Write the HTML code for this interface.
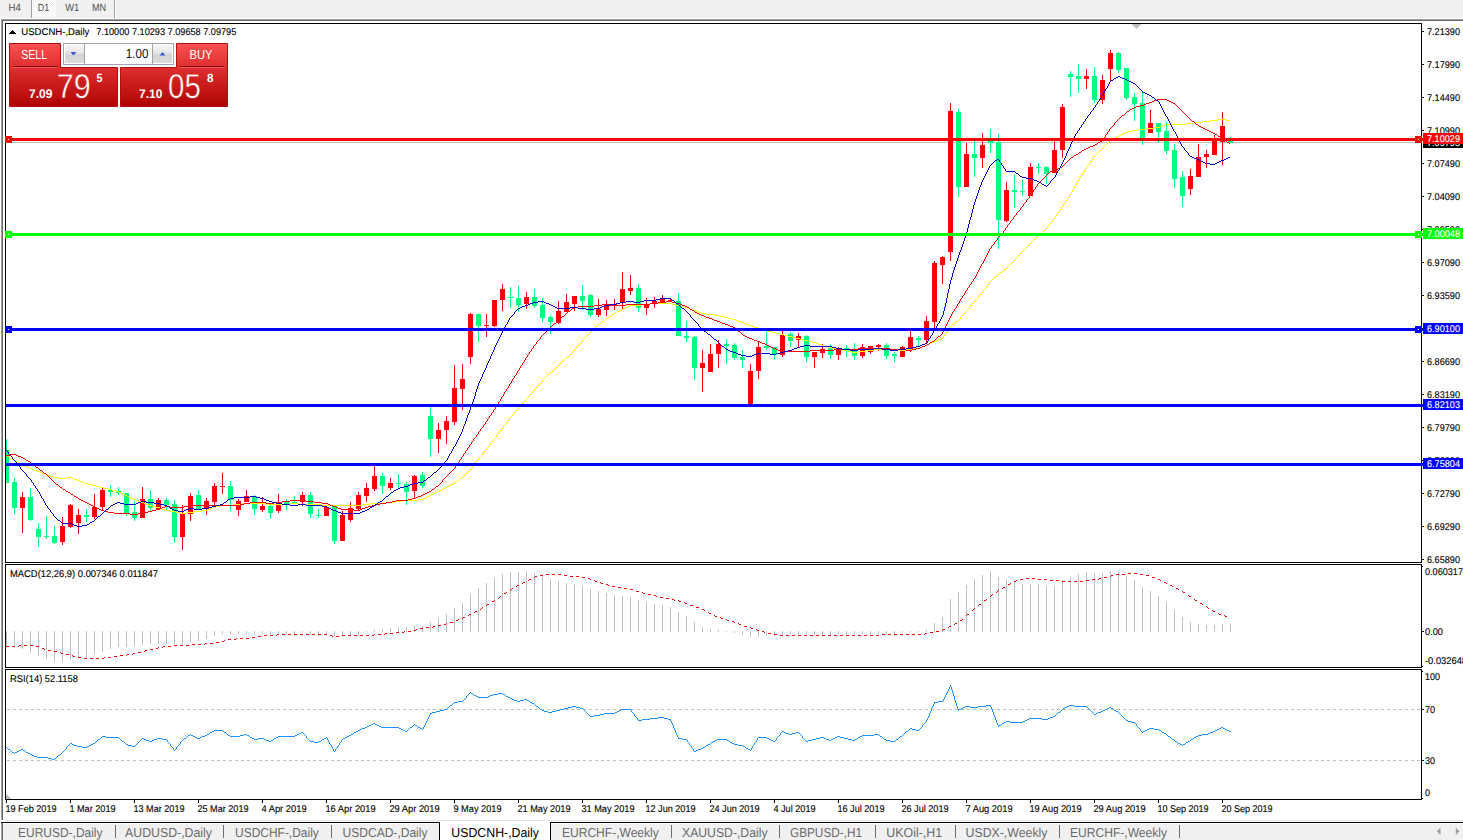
<!DOCTYPE html>
<html><head><meta charset="utf-8"><title>USDCNH-,Daily</title>
<style>
html,body{margin:0;padding:0;background:#fff;overflow:hidden}
svg{display:block;font-family:"Liberation Sans",sans-serif}
text{white-space:pre;text-rendering:geometricPrecision}
</style></head><body>
<svg width="1463" height="840" viewBox="0 0 1463 840">
<rect x="0" y="0" width="1463" height="840" fill="#fff"/>
<rect x="0" y="0" width="1463" height="18" fill="#f0f0f0"/>
<defs><pattern id="hatch" width="2" height="2" patternUnits="userSpaceOnUse"><rect width="2" height="2" fill="#f0f0f0"/><rect width="1" height="1" fill="#fff"/><rect x="1" y="1" width="1" height="1" fill="#fff"/></pattern></defs>
<rect x="32" y="0" width="24" height="17" fill="url(#hatch)" shape-rendering="crispEdges"/>
<rect x="31" y="0" width="1" height="18" fill="#a0a0a0"/>
<rect x="114" y="0" width="1" height="18" fill="#a0a0a0"/>
<rect x="115" y="0" width="1" height="18" fill="#fff"/>
<rect x="0" y="18" width="1463" height="1" fill="#fcfcfc"/>
<rect x="1" y="19" width="1462" height="1" fill="#a0a0a0"/>
<rect x="2" y="20" width="1461" height="1" fill="#696969"/>
<rect x="1" y="19" width="1" height="801" fill="#a0a0a0"/>
<rect x="2" y="20" width="1" height="800" fill="#696969"/>
<text x="8.6" y="10.8" font-size="10.4" fill="#505050" textLength="12.3" lengthAdjust="spacingAndGlyphs">H4</text>
<text x="37.7" y="10.8" font-size="10.4" fill="#505050" textLength="11.5" lengthAdjust="spacingAndGlyphs">D1</text>
<text x="65.2" y="10.8" font-size="10.4" fill="#505050" textLength="14" lengthAdjust="spacingAndGlyphs">W1</text>
<text x="91.9" y="10.8" font-size="10.4" fill="#505050" textLength="14.3" lengthAdjust="spacingAndGlyphs">MN</text>
<rect x="5" y="23" width="1417" height="1" fill="#000"/>
<rect x="5" y="562" width="1417" height="1" fill="#000"/>
<rect x="5" y="23" width="1" height="540" fill="#000"/>
<rect x="1421" y="23" width="1" height="540" fill="#000"/>
<rect x="5" y="564" width="1417" height="1" fill="#000"/>
<rect x="5" y="667" width="1417" height="1" fill="#000"/>
<rect x="5" y="564" width="1" height="104" fill="#000"/>
<rect x="1421" y="564" width="1" height="104" fill="#000"/>
<rect x="5" y="669" width="1417" height="1" fill="#000"/>
<rect x="5" y="799" width="1417" height="1" fill="#000"/>
<rect x="5" y="669" width="1" height="131" fill="#000"/>
<rect x="1421" y="669" width="1" height="131" fill="#000"/>
<g shape-rendering="crispEdges">
<rect x="6" y="142" width="1415" height="1" fill="#c0c0c0"/>
<rect x="6" y="439" width="1" height="44" fill="#00ff7f"/>
<rect x="6" y="450" width="3" height="33" fill="#00ff7f"/>
<rect x="14" y="478" width="1" height="36" fill="#00ff7f"/>
<rect x="12" y="482" width="5" height="26" fill="#00ff7f"/>
<rect x="22" y="492" width="1" height="41" fill="#ff0000"/>
<rect x="20" y="497" width="5" height="11" fill="#ff0000"/>
<rect x="30" y="488" width="1" height="33" fill="#00ff7f"/>
<rect x="28" y="497" width="5" height="23" fill="#00ff7f"/>
<rect x="38" y="523" width="1" height="24" fill="#00ff7f"/>
<rect x="36" y="529" width="5" height="8" fill="#00ff7f"/>
<rect x="46" y="516" width="1" height="23" fill="#00ff7f"/>
<rect x="44" y="536" width="5" height="1" fill="#00ff7f"/>
<rect x="54" y="526" width="1" height="18" fill="#00ff7f"/>
<rect x="52" y="536" width="5" height="7" fill="#00ff7f"/>
<rect x="62" y="517" width="1" height="28" fill="#ff0000"/>
<rect x="60" y="526" width="5" height="16" fill="#ff0000"/>
<rect x="70" y="504" width="1" height="24" fill="#ff0000"/>
<rect x="68" y="505" width="5" height="22" fill="#ff0000"/>
<rect x="78" y="509" width="1" height="25" fill="#ff0000"/>
<rect x="76" y="515" width="5" height="8" fill="#ff0000"/>
<rect x="86" y="509" width="1" height="13" fill="#00ff7f"/>
<rect x="84" y="515" width="5" height="2" fill="#00ff7f"/>
<rect x="94" y="494" width="1" height="25" fill="#ff0000"/>
<rect x="92" y="507" width="5" height="10" fill="#ff0000"/>
<rect x="102" y="488" width="1" height="22" fill="#ff0000"/>
<rect x="100" y="490" width="5" height="17" fill="#ff0000"/>
<rect x="110" y="485" width="1" height="12" fill="#00ff7f"/>
<rect x="108" y="490" width="5" height="2" fill="#00ff7f"/>
<rect x="118" y="487" width="1" height="8" fill="#00ff7f"/>
<rect x="116" y="491" width="5" height="2" fill="#00ff7f"/>
<rect x="126" y="493" width="1" height="23" fill="#00ff7f"/>
<rect x="124" y="493" width="5" height="20" fill="#00ff7f"/>
<rect x="134" y="501" width="1" height="20" fill="#00ff7f"/>
<rect x="132" y="512" width="5" height="6" fill="#00ff7f"/>
<rect x="142" y="487" width="1" height="31" fill="#ff0000"/>
<rect x="140" y="499" width="5" height="19" fill="#ff0000"/>
<rect x="150" y="490" width="1" height="21" fill="#00ff7f"/>
<rect x="148" y="499" width="5" height="9" fill="#00ff7f"/>
<rect x="158" y="498" width="1" height="12" fill="#ff0000"/>
<rect x="156" y="500" width="5" height="9" fill="#ff0000"/>
<rect x="166" y="498" width="1" height="12" fill="#00ff7f"/>
<rect x="164" y="500" width="5" height="5" fill="#00ff7f"/>
<rect x="174" y="500" width="1" height="43" fill="#00ff7f"/>
<rect x="172" y="504" width="5" height="33" fill="#00ff7f"/>
<rect x="182" y="505" width="1" height="45" fill="#ff0000"/>
<rect x="180" y="513" width="5" height="24" fill="#ff0000"/>
<rect x="190" y="493" width="1" height="28" fill="#ff0000"/>
<rect x="188" y="496" width="5" height="18" fill="#ff0000"/>
<rect x="198" y="491" width="1" height="19" fill="#00ff7f"/>
<rect x="196" y="495" width="5" height="14" fill="#00ff7f"/>
<rect x="206" y="498" width="1" height="17" fill="#ff0000"/>
<rect x="204" y="501" width="5" height="8" fill="#ff0000"/>
<rect x="214" y="483" width="1" height="23" fill="#ff0000"/>
<rect x="212" y="486" width="5" height="16" fill="#ff0000"/>
<rect x="222" y="473" width="1" height="21" fill="#ff0000"/>
<rect x="220" y="486" width="5" height="1" fill="#ff0000"/>
<rect x="230" y="481" width="1" height="30" fill="#00ff7f"/>
<rect x="228" y="486" width="5" height="14" fill="#00ff7f"/>
<rect x="238" y="499" width="1" height="17" fill="#ff0000"/>
<rect x="236" y="501" width="5" height="9" fill="#ff0000"/>
<rect x="246" y="490" width="1" height="12" fill="#ff0000"/>
<rect x="244" y="496" width="5" height="6" fill="#ff0000"/>
<rect x="254" y="495" width="1" height="20" fill="#00ff7f"/>
<rect x="252" y="496" width="5" height="13" fill="#00ff7f"/>
<rect x="262" y="497" width="1" height="15" fill="#ff0000"/>
<rect x="260" y="506" width="5" height="4" fill="#ff0000"/>
<rect x="270" y="505" width="1" height="14" fill="#00ff7f"/>
<rect x="268" y="506" width="5" height="7" fill="#00ff7f"/>
<rect x="278" y="494" width="1" height="19" fill="#ff0000"/>
<rect x="276" y="502" width="5" height="9" fill="#ff0000"/>
<rect x="286" y="499" width="1" height="11" fill="#00ff7f"/>
<rect x="284" y="502" width="5" height="3" fill="#00ff7f"/>
<rect x="294" y="496" width="1" height="8" fill="#00ff7f"/>
<rect x="292" y="502" width="5" height="2" fill="#00ff7f"/>
<rect x="302" y="492" width="1" height="14" fill="#ff0000"/>
<rect x="300" y="495" width="5" height="7" fill="#ff0000"/>
<rect x="310" y="492" width="1" height="26" fill="#00ff7f"/>
<rect x="308" y="495" width="5" height="19" fill="#00ff7f"/>
<rect x="318" y="509" width="1" height="9" fill="#00ff7f"/>
<rect x="316" y="515" width="5" height="1" fill="#00ff7f"/>
<rect x="326" y="507" width="1" height="9" fill="#ff0000"/>
<rect x="324" y="507" width="5" height="9" fill="#ff0000"/>
<rect x="334" y="506" width="1" height="38" fill="#00ff7f"/>
<rect x="332" y="506" width="5" height="35" fill="#00ff7f"/>
<rect x="342" y="511" width="1" height="30" fill="#ff0000"/>
<rect x="340" y="515" width="5" height="26" fill="#ff0000"/>
<rect x="350" y="502" width="1" height="20" fill="#ff0000"/>
<rect x="348" y="508" width="5" height="12" fill="#ff0000"/>
<rect x="358" y="492" width="1" height="19" fill="#ff0000"/>
<rect x="356" y="495" width="5" height="14" fill="#ff0000"/>
<rect x="366" y="483" width="1" height="19" fill="#ff0000"/>
<rect x="364" y="488" width="5" height="8" fill="#ff0000"/>
<rect x="374" y="466" width="1" height="25" fill="#ff0000"/>
<rect x="372" y="476" width="5" height="13" fill="#ff0000"/>
<rect x="382" y="473" width="1" height="21" fill="#00ff7f"/>
<rect x="380" y="476" width="5" height="10" fill="#00ff7f"/>
<rect x="390" y="478" width="1" height="12" fill="#ff0000"/>
<rect x="388" y="483" width="5" height="5" fill="#ff0000"/>
<rect x="398" y="474" width="1" height="14" fill="#00ff7f"/>
<rect x="396" y="483" width="5" height="1" fill="#00ff7f"/>
<rect x="406" y="482" width="1" height="23" fill="#00ff7f"/>
<rect x="404" y="484" width="5" height="8" fill="#00ff7f"/>
<rect x="414" y="475" width="1" height="23" fill="#ff0000"/>
<rect x="412" y="476" width="5" height="15" fill="#ff0000"/>
<rect x="422" y="472" width="1" height="16" fill="#00ff7f"/>
<rect x="420" y="475" width="5" height="11" fill="#00ff7f"/>
<rect x="430" y="407" width="1" height="50" fill="#00ff7f"/>
<rect x="428" y="416" width="5" height="23" fill="#00ff7f"/>
<rect x="438" y="423" width="1" height="30" fill="#ff0000"/>
<rect x="436" y="430" width="5" height="9" fill="#ff0000"/>
<rect x="446" y="416" width="1" height="28" fill="#ff0000"/>
<rect x="444" y="421" width="5" height="9" fill="#ff0000"/>
<rect x="454" y="365" width="1" height="60" fill="#ff0000"/>
<rect x="452" y="388" width="5" height="34" fill="#ff0000"/>
<rect x="462" y="364" width="1" height="46" fill="#ff0000"/>
<rect x="460" y="379" width="5" height="10" fill="#ff0000"/>
<rect x="470" y="313" width="1" height="51" fill="#ff0000"/>
<rect x="468" y="314" width="5" height="43" fill="#ff0000"/>
<rect x="478" y="314" width="1" height="28" fill="#00ff7f"/>
<rect x="476" y="314" width="5" height="12" fill="#00ff7f"/>
<rect x="486" y="314" width="1" height="23" fill="#ff0000"/>
<rect x="484" y="325" width="5" height="1" fill="#ff0000"/>
<rect x="494" y="300" width="1" height="27" fill="#ff0000"/>
<rect x="492" y="300" width="5" height="26" fill="#ff0000"/>
<rect x="502" y="284" width="1" height="27" fill="#ff0000"/>
<rect x="500" y="289" width="5" height="11" fill="#ff0000"/>
<rect x="510" y="287" width="1" height="21" fill="#00ff7f"/>
<rect x="508" y="297" width="5" height="1" fill="#00ff7f"/>
<rect x="518" y="286" width="1" height="26" fill="#00ff7f"/>
<rect x="516" y="298" width="5" height="7" fill="#00ff7f"/>
<rect x="526" y="292" width="1" height="17" fill="#ff0000"/>
<rect x="524" y="297" width="5" height="7" fill="#ff0000"/>
<rect x="534" y="289" width="1" height="19" fill="#00ff7f"/>
<rect x="532" y="297" width="5" height="9" fill="#00ff7f"/>
<rect x="542" y="298" width="1" height="24" fill="#00ff7f"/>
<rect x="540" y="305" width="5" height="13" fill="#00ff7f"/>
<rect x="550" y="316" width="1" height="18" fill="#00ff7f"/>
<rect x="548" y="317" width="5" height="5" fill="#00ff7f"/>
<rect x="558" y="301" width="1" height="23" fill="#ff0000"/>
<rect x="556" y="311" width="5" height="12" fill="#ff0000"/>
<rect x="566" y="294" width="1" height="18" fill="#ff0000"/>
<rect x="564" y="302" width="5" height="10" fill="#ff0000"/>
<rect x="574" y="296" width="1" height="15" fill="#ff0000"/>
<rect x="572" y="296" width="5" height="8" fill="#ff0000"/>
<rect x="582" y="285" width="1" height="25" fill="#00ff7f"/>
<rect x="580" y="296" width="5" height="5" fill="#00ff7f"/>
<rect x="590" y="294" width="1" height="23" fill="#00ff7f"/>
<rect x="588" y="295" width="5" height="20" fill="#00ff7f"/>
<rect x="598" y="299" width="1" height="18" fill="#ff0000"/>
<rect x="596" y="309" width="5" height="6" fill="#ff0000"/>
<rect x="606" y="300" width="1" height="16" fill="#ff0000"/>
<rect x="604" y="304" width="5" height="6" fill="#ff0000"/>
<rect x="614" y="299" width="1" height="11" fill="#ff0000"/>
<rect x="612" y="304" width="5" height="2" fill="#ff0000"/>
<rect x="622" y="272" width="1" height="38" fill="#ff0000"/>
<rect x="620" y="289" width="5" height="14" fill="#ff0000"/>
<rect x="630" y="275" width="1" height="20" fill="#ff0000"/>
<rect x="628" y="288" width="5" height="3" fill="#ff0000"/>
<rect x="638" y="284" width="1" height="28" fill="#00ff7f"/>
<rect x="636" y="288" width="5" height="20" fill="#00ff7f"/>
<rect x="646" y="298" width="1" height="17" fill="#ff0000"/>
<rect x="644" y="304" width="5" height="4" fill="#ff0000"/>
<rect x="654" y="297" width="1" height="11" fill="#ff0000"/>
<rect x="652" y="301" width="5" height="3" fill="#ff0000"/>
<rect x="662" y="295" width="1" height="7" fill="#ff0000"/>
<rect x="660" y="298" width="5" height="4" fill="#ff0000"/>
<rect x="670" y="298" width="1" height="4" fill="#ff0000"/>
<rect x="668" y="300" width="5" height="1" fill="#ff0000"/>
<rect x="678" y="293" width="1" height="43" fill="#00ff7f"/>
<rect x="676" y="301" width="5" height="35" fill="#00ff7f"/>
<rect x="686" y="321" width="1" height="21" fill="#00ff7f"/>
<rect x="684" y="336" width="5" height="2" fill="#00ff7f"/>
<rect x="694" y="336" width="1" height="44" fill="#00ff7f"/>
<rect x="692" y="337" width="5" height="31" fill="#00ff7f"/>
<rect x="702" y="350" width="1" height="42" fill="#ff0000"/>
<rect x="700" y="363" width="5" height="5" fill="#ff0000"/>
<rect x="710" y="344" width="1" height="28" fill="#ff0000"/>
<rect x="708" y="354" width="5" height="18" fill="#ff0000"/>
<rect x="718" y="340" width="1" height="28" fill="#ff0000"/>
<rect x="716" y="344" width="5" height="10" fill="#ff0000"/>
<rect x="726" y="339" width="1" height="25" fill="#00ff7f"/>
<rect x="724" y="344" width="5" height="2" fill="#00ff7f"/>
<rect x="734" y="343" width="1" height="17" fill="#00ff7f"/>
<rect x="732" y="345" width="5" height="13" fill="#00ff7f"/>
<rect x="742" y="350" width="1" height="18" fill="#00ff7f"/>
<rect x="740" y="357" width="5" height="3" fill="#00ff7f"/>
<rect x="750" y="364" width="1" height="40" fill="#ff0000"/>
<rect x="748" y="371" width="5" height="33" fill="#ff0000"/>
<rect x="758" y="341" width="1" height="38" fill="#ff0000"/>
<rect x="756" y="347" width="5" height="24" fill="#ff0000"/>
<rect x="766" y="331" width="1" height="19" fill="#00ff7f"/>
<rect x="764" y="346" width="5" height="2" fill="#00ff7f"/>
<rect x="774" y="347" width="1" height="12" fill="#00ff7f"/>
<rect x="772" y="347" width="5" height="8" fill="#00ff7f"/>
<rect x="782" y="331" width="1" height="26" fill="#ff0000"/>
<rect x="780" y="335" width="5" height="20" fill="#ff0000"/>
<rect x="790" y="332" width="1" height="15" fill="#00ff7f"/>
<rect x="788" y="334" width="5" height="7" fill="#00ff7f"/>
<rect x="798" y="333" width="1" height="14" fill="#ff0000"/>
<rect x="796" y="336" width="5" height="4" fill="#ff0000"/>
<rect x="806" y="335" width="1" height="27" fill="#00ff7f"/>
<rect x="804" y="336" width="5" height="21" fill="#00ff7f"/>
<rect x="814" y="352" width="1" height="16" fill="#ff0000"/>
<rect x="812" y="352" width="5" height="5" fill="#ff0000"/>
<rect x="822" y="344" width="1" height="14" fill="#ff0000"/>
<rect x="820" y="349" width="5" height="4" fill="#ff0000"/>
<rect x="830" y="344" width="1" height="15" fill="#00ff7f"/>
<rect x="828" y="348" width="5" height="7" fill="#00ff7f"/>
<rect x="838" y="347" width="1" height="13" fill="#ff0000"/>
<rect x="836" y="348" width="5" height="7" fill="#ff0000"/>
<rect x="846" y="345" width="1" height="12" fill="#00ff7f"/>
<rect x="844" y="348" width="5" height="3" fill="#00ff7f"/>
<rect x="854" y="343" width="1" height="17" fill="#00ff7f"/>
<rect x="852" y="351" width="5" height="5" fill="#00ff7f"/>
<rect x="862" y="344" width="1" height="14" fill="#ff0000"/>
<rect x="860" y="347" width="5" height="9" fill="#ff0000"/>
<rect x="870" y="346" width="1" height="8" fill="#ff0000"/>
<rect x="868" y="346" width="5" height="6" fill="#ff0000"/>
<rect x="878" y="344" width="1" height="7" fill="#ff0000"/>
<rect x="876" y="345" width="5" height="2" fill="#ff0000"/>
<rect x="886" y="343" width="1" height="16" fill="#00ff7f"/>
<rect x="884" y="345" width="5" height="11" fill="#00ff7f"/>
<rect x="894" y="352" width="1" height="10" fill="#00ff7f"/>
<rect x="892" y="354" width="5" height="2" fill="#00ff7f"/>
<rect x="902" y="346" width="1" height="11" fill="#ff0000"/>
<rect x="900" y="347" width="5" height="10" fill="#ff0000"/>
<rect x="910" y="331" width="1" height="21" fill="#ff0000"/>
<rect x="908" y="337" width="5" height="13" fill="#ff0000"/>
<rect x="918" y="336" width="1" height="11" fill="#00ff7f"/>
<rect x="916" y="338" width="5" height="2" fill="#00ff7f"/>
<rect x="926" y="316" width="1" height="27" fill="#ff0000"/>
<rect x="924" y="321" width="5" height="19" fill="#ff0000"/>
<rect x="934" y="261" width="1" height="69" fill="#ff0000"/>
<rect x="932" y="263" width="5" height="59" fill="#ff0000"/>
<rect x="942" y="256" width="1" height="28" fill="#ff0000"/>
<rect x="940" y="257" width="5" height="8" fill="#ff0000"/>
<rect x="950" y="103" width="1" height="158" fill="#ff0000"/>
<rect x="948" y="111" width="5" height="141" fill="#ff0000"/>
<rect x="958" y="109" width="1" height="88" fill="#00ff7f"/>
<rect x="956" y="112" width="5" height="75" fill="#00ff7f"/>
<rect x="966" y="143" width="1" height="44" fill="#ff0000"/>
<rect x="964" y="154" width="5" height="33" fill="#ff0000"/>
<rect x="974" y="141" width="1" height="36" fill="#00ff7f"/>
<rect x="972" y="154" width="5" height="4" fill="#00ff7f"/>
<rect x="982" y="133" width="1" height="35" fill="#ff0000"/>
<rect x="980" y="145" width="5" height="13" fill="#ff0000"/>
<rect x="990" y="129" width="1" height="24" fill="#00ff7f"/>
<rect x="988" y="141" width="5" height="2" fill="#00ff7f"/>
<rect x="998" y="134" width="1" height="115" fill="#00ff7f"/>
<rect x="996" y="142" width="5" height="78" fill="#00ff7f"/>
<rect x="1006" y="182" width="1" height="40" fill="#ff0000"/>
<rect x="1004" y="190" width="5" height="31" fill="#ff0000"/>
<rect x="1014" y="174" width="1" height="34" fill="#00ff7f"/>
<rect x="1012" y="190" width="5" height="2" fill="#00ff7f"/>
<rect x="1022" y="180" width="1" height="16" fill="#00ff7f"/>
<rect x="1020" y="191" width="5" height="1" fill="#00ff7f"/>
<rect x="1030" y="163" width="1" height="33" fill="#ff0000"/>
<rect x="1028" y="167" width="5" height="29" fill="#ff0000"/>
<rect x="1038" y="163" width="1" height="11" fill="#00ff7f"/>
<rect x="1036" y="167" width="5" height="1" fill="#00ff7f"/>
<rect x="1046" y="166" width="1" height="18" fill="#00ff7f"/>
<rect x="1044" y="167" width="5" height="7" fill="#00ff7f"/>
<rect x="1054" y="141" width="1" height="32" fill="#ff0000"/>
<rect x="1052" y="150" width="5" height="23" fill="#ff0000"/>
<rect x="1062" y="104" width="1" height="54" fill="#ff0000"/>
<rect x="1060" y="107" width="5" height="43" fill="#ff0000"/>
<rect x="1070" y="71" width="1" height="26" fill="#00ff7f"/>
<rect x="1068" y="74" width="5" height="3" fill="#00ff7f"/>
<rect x="1078" y="64" width="1" height="29" fill="#00ff7f"/>
<rect x="1076" y="76" width="5" height="3" fill="#00ff7f"/>
<rect x="1086" y="69" width="1" height="20" fill="#ff0000"/>
<rect x="1084" y="76" width="5" height="3" fill="#ff0000"/>
<rect x="1094" y="67" width="1" height="36" fill="#00ff7f"/>
<rect x="1092" y="76" width="5" height="24" fill="#00ff7f"/>
<rect x="1102" y="75" width="1" height="29" fill="#ff0000"/>
<rect x="1100" y="80" width="5" height="20" fill="#ff0000"/>
<rect x="1110" y="50" width="1" height="31" fill="#ff0000"/>
<rect x="1108" y="53" width="5" height="16" fill="#ff0000"/>
<rect x="1118" y="52" width="1" height="21" fill="#00ff7f"/>
<rect x="1116" y="53" width="5" height="17" fill="#00ff7f"/>
<rect x="1126" y="68" width="1" height="32" fill="#00ff7f"/>
<rect x="1124" y="68" width="5" height="30" fill="#00ff7f"/>
<rect x="1134" y="93" width="1" height="28" fill="#00ff7f"/>
<rect x="1132" y="97" width="5" height="7" fill="#00ff7f"/>
<rect x="1142" y="92" width="1" height="53" fill="#00ff7f"/>
<rect x="1140" y="103" width="5" height="35" fill="#00ff7f"/>
<rect x="1150" y="110" width="1" height="23" fill="#ff0000"/>
<rect x="1148" y="123" width="5" height="10" fill="#ff0000"/>
<rect x="1158" y="123" width="1" height="20" fill="#00ff7f"/>
<rect x="1156" y="123" width="5" height="9" fill="#00ff7f"/>
<rect x="1166" y="122" width="1" height="32" fill="#00ff7f"/>
<rect x="1164" y="131" width="5" height="20" fill="#00ff7f"/>
<rect x="1174" y="144" width="1" height="44" fill="#00ff7f"/>
<rect x="1172" y="150" width="5" height="29" fill="#00ff7f"/>
<rect x="1182" y="171" width="1" height="36" fill="#00ff7f"/>
<rect x="1180" y="177" width="5" height="19" fill="#00ff7f"/>
<rect x="1190" y="169" width="1" height="26" fill="#ff0000"/>
<rect x="1188" y="176" width="5" height="13" fill="#ff0000"/>
<rect x="1198" y="144" width="1" height="33" fill="#ff0000"/>
<rect x="1196" y="157" width="5" height="20" fill="#ff0000"/>
<rect x="1206" y="150" width="1" height="18" fill="#ff0000"/>
<rect x="1204" y="154" width="5" height="3" fill="#ff0000"/>
<rect x="1214" y="135" width="1" height="20" fill="#ff0000"/>
<rect x="1212" y="138" width="5" height="17" fill="#ff0000"/>
<rect x="1222" y="112" width="1" height="53" fill="#ff0000"/>
<rect x="1220" y="126" width="5" height="16" fill="#ff0000"/>
<rect x="1230" y="137" width="1" height="6" fill="#00ff7f"/>
<rect x="1228" y="139" width="5" height="4" fill="#00ff7f"/>
</g>
<path fill="#ffff00" shape-rendering="crispEdges" d="M6 455h1v1h-1zM7 456h2v1h-2zM9 457h1v1h-1zM10 458h2v1h-2zM12 459h2v1h-2zM14 460h1v1h-1zM15 461h2v1h-2zM17 462h2v1h-2zM19 463h2v1h-2zM21 464h2v1h-2zM23 465h2v1h-2zM25 466h2v1h-2zM27 467h2v1h-2zM29 468h3v1h-3zM32 469h2v1h-2zM34 470h3v1h-3zM37 471h3v1h-3zM40 472h2v1h-2zM42 473h3v1h-3zM45 474h3v1h-3zM48 475h2v1h-2zM50 476h3v1h-3zM53 477h5v1h-5zM58 478h8v1h-8zM66 477h6v1h-6zM72 478h2v1h-2zM74 479h3v1h-3zM77 480h3v1h-3zM80 481h2v1h-2zM82 482h3v1h-3zM85 483h3v1h-3zM88 484h4v1h-4zM92 485h4v1h-4zM96 486h4v1h-4zM100 487h4v1h-4zM104 488h4v1h-4zM108 489h4v1h-4zM112 490h4v1h-4zM116 491h3v1h-3zM119 492h2v1h-2zM121 493h2v1h-2zM123 494h2v1h-2zM125 495h2v1h-2zM127 496h2v1h-2zM129 497h2v1h-2zM131 498h2v1h-2zM133 499h3v1h-3zM136 500h2v1h-2zM138 501h3v1h-3zM141 502h3v1h-3zM144 503h2v1h-2zM146 504h3v1h-3zM149 505h3v1h-3zM152 506h4v1h-4zM156 507h4v1h-4zM160 508h2v1h-2zM162 509h3v1h-3zM165 510h5v1h-5zM170 511h6v1h-6zM176 512h4v1h-4zM180 513h6v1h-6zM186 512h8v1h-8zM194 511h8v1h-8zM202 510h6v1h-6zM208 509h2v1h-2zM210 508h3v1h-3zM213 507h3v1h-3zM216 506h4v1h-4zM220 505h14v1h-14zM234 504h8v1h-8zM242 503h24v1h-24zM266 504h24v1h-24zM290 503h8v1h-8zM298 504h24v1h-24zM322 505h40v1h-40zM362 504h8v1h-8zM370 503h16v1h-16zM386 502h8v1h-8zM394 501h8v1h-8zM402 500h16v1h-16zM418 499h5v1h-5zM423 498h2v1h-2zM425 497h2v1h-2zM427 496h2v1h-2zM429 495h2v1h-2zM431 494h2v1h-2zM433 493h2v1h-2zM435 492h2v1h-2zM437 491h2v1h-2zM439 490h2v1h-2zM441 489h2v1h-2zM443 488h2v1h-2zM445 487h2v1h-2zM447 486h2v1h-2zM449 485h2v1h-2zM451 484h2v1h-2zM453 483h2v1h-2zM455 482h1v1h-1zM456 481h2v1h-2zM458 480h1v1h-1zM459 479h1v1h-1zM460 478h2v1h-2zM462 477h1v1h-1zM463 476h1v1h-1zM464 475h1v1h-1zM465 474h1v1h-1zM466 473h1v1h-1zM467 472h1v1h-1zM468 471h1v1h-1zM469 470h1v1h-1zM470 469h1v1h-1zM471 468h1v1h-1zM472 466h1v2h-1zM473 465h1v1h-1zM474 464h1v1h-1zM475 462h1v2h-1zM476 461h1v1h-1zM477 460h1v1h-1zM478 458h1v2h-1zM479 457h1v1h-1zM480 456h1v1h-1zM481 455h1v1h-1zM482 454h1v1h-1zM483 452h1v2h-1zM484 451h1v1h-1zM485 450h1v1h-1zM486 449h1v1h-1zM487 447h1v2h-1zM488 446h1v1h-1zM489 445h1v1h-1zM490 443h1v2h-1zM491 442h1v1h-1zM492 441h1v1h-1zM493 439h1v2h-1zM494 438h1v1h-1zM495 437h1v1h-1zM496 435h1v2h-1zM497 434h1v1h-1zM498 433h1v1h-1zM499 432h1v1h-1zM500 430h1v2h-1zM501 429h1v1h-1zM502 428h1v1h-1zM503 426h1v2h-1zM504 425h1v1h-1zM505 424h1v1h-1zM506 422h1v2h-1zM507 421h1v1h-1zM508 420h1v1h-1zM509 418h1v2h-1zM510 417h1v1h-1zM511 416h1v1h-1zM512 415h1v1h-1zM513 413h1v2h-1zM514 412h1v1h-1zM515 411h1v1h-1zM516 410h1v1h-1zM517 409h1v1h-1zM518 408h1v1h-1zM519 406h1v2h-1zM520 405h1v1h-1zM521 404h1v1h-1zM522 403h1v1h-1zM523 402h1v1h-1zM524 401h1v1h-1zM525 400h1v1h-1zM526 398h1v2h-1zM527 397h1v1h-1zM528 396h1v1h-1zM529 395h1v1h-1zM530 394h1v1h-1zM531 393h1v1h-1zM532 392h1v1h-1zM533 391h1v1h-1zM534 389h1v2h-1zM535 388h1v1h-1zM536 387h1v1h-1zM537 386h1v1h-1zM538 385h1v1h-1zM539 384h1v1h-1zM540 383h1v1h-1zM541 382h1v1h-1zM542 380h1v2h-1zM543 379h1v1h-1zM544 378h1v1h-1zM545 377h1v1h-1zM546 376h1v1h-1zM547 375h1v1h-1zM548 374h1v1h-1zM549 373h1v1h-1zM550 372h2v1h-2zM552 371h1v1h-1zM553 370h1v1h-1zM554 369h1v1h-1zM555 368h1v1h-1zM556 367h1v1h-1zM557 366h1v1h-1zM558 365h1v1h-1zM559 364h1v1h-1zM560 363h1v1h-1zM561 362h1v1h-1zM562 361h1v1h-1zM563 360h1v1h-1zM564 359h1v1h-1zM565 358h1v1h-1zM566 357h2v1h-2zM568 356h1v1h-1zM569 355h1v1h-1zM570 354h1v1h-1zM571 353h1v1h-1zM572 352h1v1h-1zM573 351h1v1h-1zM574 349h1v2h-1zM575 348h1v1h-1zM576 347h1v1h-1zM577 346h1v1h-1zM578 345h1v1h-1zM579 344h1v1h-1zM580 343h1v1h-1zM581 342h1v1h-1zM582 340h1v2h-1zM583 339h1v1h-1zM584 338h1v1h-1zM585 337h1v1h-1zM586 336h1v1h-1zM587 335h1v1h-1zM588 334h1v1h-1zM589 333h1v1h-1zM590 332h1v1h-1zM591 331h1v1h-1zM592 330h1v1h-1zM593 329h1v1h-1zM594 328h1v1h-1zM595 327h1v1h-1zM596 326h1v1h-1zM597 325h1v1h-1zM598 324h2v1h-2zM600 323h1v1h-1zM601 322h1v1h-1zM602 321h2v1h-2zM604 320h1v1h-1zM605 319h1v1h-1zM606 318h2v1h-2zM608 317h1v1h-1zM609 316h2v1h-2zM611 315h1v1h-1zM612 314h2v1h-2zM614 313h1v1h-1zM615 312h2v1h-2zM617 311h2v1h-2zM619 310h2v1h-2zM621 309h2v1h-2zM623 308h2v1h-2zM625 307h2v1h-2zM627 306h2v1h-2zM629 305h13v1h-13zM642 304h8v1h-8zM650 303h22v1h-22zM672 304h4v1h-4zM676 305h4v1h-4zM680 306h4v1h-4zM684 307h4v1h-4zM688 308h2v1h-2zM690 309h3v1h-3zM693 310h3v1h-3zM696 311h2v1h-2zM698 312h3v1h-3zM701 313h5v1h-5zM706 314h8v1h-8zM714 315h6v1h-6zM720 316h4v1h-4zM724 317h4v1h-4zM728 318h4v1h-4zM732 319h4v1h-4zM736 320h2v1h-2zM738 321h3v1h-3zM741 322h3v1h-3zM744 323h2v1h-2zM746 324h3v1h-3zM749 325h3v1h-3zM752 326h3v1h-3zM755 327h3v1h-3zM758 328h3v1h-3zM761 329h4v1h-4zM765 330h3v1h-3zM768 331h4v1h-4zM772 332h4v1h-4zM776 333h4v1h-4zM780 334h4v1h-4zM784 335h4v1h-4zM788 336h4v1h-4zM792 337h4v1h-4zM796 338h4v1h-4zM800 339h4v1h-4zM804 340h4v1h-4zM808 341h4v1h-4zM812 342h4v1h-4zM816 343h2v1h-2zM818 344h3v1h-3zM821 345h3v1h-3zM824 346h4v1h-4zM828 347h4v1h-4zM832 348h4v1h-4zM836 349h6v1h-6zM842 350h6v1h-6zM848 351h4v1h-4zM852 352h6v1h-6zM858 351h8v1h-8zM866 350h8v1h-8zM874 349h16v1h-16zM890 350h16v1h-16zM906 349h8v1h-8zM914 348h6v1h-6zM920 347h2v1h-2zM922 346h3v1h-3zM925 345h2v1h-2zM927 344h2v1h-2zM929 343h2v1h-2zM931 342h2v1h-2zM933 341h3v1h-3zM936 340h2v1h-2zM938 339h3v1h-3zM941 338h2v1h-2zM943 336h1v2h-1zM944 335h1v1h-1zM945 333h1v2h-1zM946 332h1v1h-1zM947 330h1v2h-1zM948 329h1v1h-1zM949 327h1v2h-1zM950 326h1v1h-1zM951 325h1v1h-1zM952 324h2v1h-2zM954 323h1v1h-1zM955 322h1v1h-1zM956 321h2v1h-2zM958 320h1v1h-1zM959 319h1v1h-1zM960 317h1v2h-1zM961 316h1v1h-1zM962 315h1v1h-1zM963 314h1v1h-1zM964 312h1v2h-1zM965 311h1v1h-1zM966 310h1v1h-1zM967 309h1v1h-1zM968 308h1v1h-1zM969 307h1v1h-1zM970 305h1v2h-1zM971 304h1v1h-1zM972 303h1v1h-1zM973 302h1v1h-1zM974 301h1v1h-1zM975 300h1v1h-1zM976 299h1v1h-1zM977 298h1v1h-1zM978 296h1v2h-1zM979 295h1v1h-1zM980 294h1v1h-1zM981 293h1v1h-1zM982 292h1v1h-1zM983 290h1v2h-1zM984 289h1v1h-1zM985 288h1v1h-1zM986 286h1v2h-1zM987 285h1v1h-1zM988 284h1v1h-1zM989 282h1v2h-1zM990 281h1v1h-1zM991 280h1v1h-1zM992 279h1v1h-1zM993 278h1v1h-1zM994 277h2v1h-2zM996 276h1v1h-1zM997 275h1v1h-1zM998 274h1v1h-1zM999 273h1v1h-1zM1000 272h2v1h-2zM1002 271h1v1h-1zM1003 270h1v1h-1zM1004 269h2v1h-2zM1006 268h1v1h-1zM1007 267h1v1h-1zM1008 266h1v1h-1zM1009 265h1v1h-1zM1010 264h1v1h-1zM1011 263h1v1h-1zM1012 262h1v1h-1zM1013 261h1v1h-1zM1014 260h1v1h-1zM1015 259h1v1h-1zM1016 258h1v1h-1zM1017 257h1v1h-1zM1018 255h1v2h-1zM1019 254h1v1h-1zM1020 253h1v1h-1zM1021 252h1v1h-1zM1022 251h1v1h-1zM1023 250h1v1h-1zM1024 249h1v1h-1zM1025 248h1v1h-1zM1026 247h1v1h-1zM1027 246h1v1h-1zM1028 245h1v1h-1zM1029 244h1v1h-1zM1030 243h1v1h-1zM1031 242h1v1h-1zM1032 241h1v1h-1zM1033 240h1v1h-1zM1034 239h1v1h-1zM1035 238h1v1h-1zM1036 237h1v1h-1zM1037 236h1v1h-1zM1038 235h1v1h-1zM1039 234h2v1h-2zM1041 233h1v1h-1zM1042 232h1v1h-1zM1043 231h1v1h-1zM1044 230h1v1h-1zM1045 229h1v1h-1zM1046 228h1v1h-1zM1047 227h1v1h-1zM1048 225h1v2h-1zM1049 224h1v1h-1zM1050 223h1v1h-1zM1051 222h1v1h-1zM1052 220h1v2h-1zM1053 219h1v1h-1zM1054 218h1v1h-1zM1055 216h1v2h-1zM1056 215h1v1h-1zM1057 213h1v2h-1zM1058 212h1v1h-1zM1059 210h1v2h-1zM1060 209h1v1h-1zM1061 207h1v2h-1zM1062 206h1v1h-1zM1063 204h1v2h-1zM1064 203h1v1h-1zM1065 201h1v2h-1zM1066 200h1v1h-1zM1067 198h1v2h-1zM1068 197h1v1h-1zM1069 195h1v2h-1zM1070 194h1v1h-1zM1071 192h1v2h-1zM1072 190h1v2h-1zM1073 188h1v2h-1zM1074 187h1v1h-1zM1075 185h1v2h-1zM1076 183h1v2h-1zM1077 181h1v2h-1zM1078 180h1v1h-1zM1079 178h1v2h-1zM1080 176h1v2h-1zM1081 175h1v1h-1zM1082 173h1v2h-1zM1083 172h1v1h-1zM1084 170h1v2h-1zM1085 168h1v2h-1zM1086 167h1v1h-1zM1087 165h1v2h-1zM1088 164h1v1h-1zM1089 163h1v1h-1zM1090 161h1v2h-1zM1091 160h1v1h-1zM1092 159h1v1h-1zM1093 157h1v2h-1zM1094 156h1v1h-1zM1095 155h1v1h-1zM1096 154h1v1h-1zM1097 153h1v1h-1zM1098 152h1v1h-1zM1099 151h1v1h-1zM1100 150h1v1h-1zM1101 149h1v1h-1zM1102 148h1v1h-1zM1103 147h1v1h-1zM1104 146h1v1h-1zM1105 145h1v1h-1zM1106 144h1v1h-1zM1107 143h1v1h-1zM1108 142h1v1h-1zM1109 141h1v1h-1zM1110 140h2v1h-2zM1112 139h1v1h-1zM1113 138h2v1h-2zM1115 137h2v1h-2zM1117 136h2v1h-2zM1119 135h2v1h-2zM1121 134h2v1h-2zM1123 133h2v1h-2zM1125 132h3v1h-3zM1128 131h4v1h-4zM1132 130h6v1h-6zM1138 129h8v1h-8zM1146 128h8v1h-8zM1154 127h6v1h-6zM1160 126h2v1h-2zM1162 125h3v1h-3zM1165 124h21v1h-21zM1186 123h8v1h-8zM1194 122h8v1h-8zM1202 121h8v1h-8zM1210 120h8v1h-8zM1218 119h8v1h-8zM1226 120h4v1h-4z"/>
<path fill="#ff0000" shape-rendering="crispEdges" d="M6 455h4v1h-4zM10 454h6v1h-6zM16 455h2v1h-2zM18 456h3v1h-3zM21 457h2v1h-2zM23 458h2v1h-2zM25 459h1v1h-1zM26 460h2v1h-2zM28 461h2v1h-2zM30 462h1v1h-1zM31 463h1v1h-1zM32 464h2v1h-2zM34 465h1v1h-1zM35 466h1v1h-1zM36 467h2v1h-2zM38 468h1v1h-1zM39 469h1v1h-1zM40 470h2v1h-2zM42 471h1v1h-1zM43 472h1v1h-1zM44 473h2v1h-2zM46 474h1v1h-1zM47 475h1v1h-1zM48 476h1v1h-1zM49 477h1v1h-1zM50 478h1v1h-1zM51 479h1v1h-1zM52 480h1v1h-1zM53 481h1v1h-1zM54 482h1v1h-1zM55 483h1v1h-1zM56 484h2v1h-2zM58 485h1v1h-1zM59 486h1v1h-1zM60 487h2v1h-2zM62 488h1v1h-1zM63 489h2v1h-2zM65 490h1v1h-1zM66 491h2v1h-2zM68 492h2v1h-2zM70 493h1v1h-1zM71 494h2v1h-2zM73 495h1v1h-1zM74 496h2v1h-2zM76 497h2v1h-2zM78 498h1v1h-1zM79 499h2v1h-2zM81 500h2v1h-2zM83 501h2v1h-2zM85 502h2v1h-2zM87 503h2v1h-2zM89 504h2v1h-2zM91 505h2v1h-2zM93 506h2v1h-2zM95 507h2v1h-2zM97 508h2v1h-2zM99 509h2v1h-2zM101 510h3v1h-3zM104 511h4v1h-4zM108 512h6v1h-6zM114 513h16v1h-16zM130 514h8v1h-8zM138 513h6v1h-6zM144 512h4v1h-4zM148 511h4v1h-4zM152 510h4v1h-4zM156 509h4v1h-4zM160 508h2v1h-2zM162 507h3v1h-3zM165 506h5v1h-5zM170 507h14v1h-14zM184 506h4v1h-4zM188 505h52v1h-52zM240 504h4v1h-4zM244 503h6v1h-6zM250 502h16v1h-16zM266 503h8v1h-8zM274 502h8v1h-8zM282 501h8v1h-8zM290 500h16v1h-16zM306 501h8v1h-8zM314 502h8v1h-8zM322 503h6v1h-6zM328 504h2v1h-2zM330 505h3v1h-3zM333 506h3v1h-3zM336 507h2v1h-2zM338 508h3v1h-3zM341 509h13v1h-13zM354 510h6v1h-6zM360 509h2v1h-2zM362 508h3v1h-3zM365 507h3v1h-3zM368 506h4v1h-4zM372 505h4v1h-4zM376 504h4v1h-4zM380 503h6v1h-6zM386 502h6v1h-6zM392 501h4v1h-4zM396 500h12v1h-12zM408 499h4v1h-4zM412 498h4v1h-4zM416 497h2v1h-2zM418 496h3v1h-3zM421 495h2v1h-2zM423 494h2v1h-2zM425 493h2v1h-2zM427 492h2v1h-2zM429 491h2v1h-2zM431 490h1v1h-1zM432 489h2v1h-2zM434 488h1v1h-1zM435 487h1v1h-1zM436 486h2v1h-2zM438 485h1v1h-1zM439 484h1v1h-1zM440 483h1v1h-1zM441 482h1v1h-1zM442 480h1v2h-1zM443 479h1v1h-1zM444 478h1v1h-1zM445 477h1v1h-1zM446 476h1v1h-1zM447 475h1v1h-1zM448 474h1v1h-1zM449 473h1v1h-1zM450 472h1v1h-1zM451 471h1v1h-1zM452 470h1v1h-1zM453 469h1v1h-1zM454 468h1v1h-1zM455 466h1v2h-1zM456 465h1v1h-1zM457 463h1v2h-1zM458 462h1v1h-1zM459 460h1v2h-1zM460 459h1v1h-1zM461 457h1v2h-1zM462 456h1v1h-1zM463 454h1v2h-1zM464 453h1v1h-1zM465 451h1v2h-1zM466 450h1v1h-1zM467 448h1v2h-1zM468 447h1v1h-1zM469 445h1v2h-1zM470 444h1v1h-1zM471 442h1v2h-1zM472 441h1v1h-1zM473 439h1v2h-1zM474 438h1v1h-1zM475 437h1v1h-1zM476 435h1v2h-1zM477 434h1v1h-1zM478 432h1v2h-1zM479 431h1v1h-1zM480 429h1v2h-1zM481 428h1v1h-1zM482 427h1v1h-1zM483 425h1v2h-1zM484 424h1v1h-1zM485 422h1v2h-1zM486 421h1v1h-1zM487 419h1v2h-1zM488 418h1v1h-1zM489 416h1v2h-1zM490 415h1v1h-1zM491 413h1v2h-1zM492 412h1v1h-1zM493 410h1v2h-1zM494 409h1v1h-1zM495 407h1v2h-1zM496 405h1v2h-1zM497 404h1v1h-1zM498 402h1v2h-1zM499 401h1v1h-1zM500 399h1v2h-1zM501 397h1v2h-1zM502 396h1v1h-1zM503 394h1v2h-1zM504 392h1v2h-1zM505 391h1v1h-1zM506 389h1v2h-1zM507 388h1v1h-1zM508 386h1v2h-1zM509 384h1v2h-1zM510 383h1v1h-1zM511 381h1v2h-1zM512 379h1v2h-1zM513 378h1v1h-1zM514 376h1v2h-1zM515 375h1v1h-1zM516 373h1v2h-1zM517 371h1v2h-1zM518 370h1v1h-1zM519 368h1v2h-1zM520 366h1v2h-1zM521 365h1v1h-1zM522 363h1v2h-1zM523 362h1v1h-1zM524 360h1v2h-1zM525 358h1v2h-1zM526 357h1v1h-1zM527 355h1v2h-1zM528 354h1v1h-1zM529 352h1v2h-1zM530 351h1v1h-1zM531 349h1v2h-1zM532 348h1v1h-1zM533 346h1v2h-1zM534 345h1v1h-1zM535 344h1v1h-1zM536 342h1v2h-1zM537 341h1v1h-1zM538 340h1v1h-1zM539 339h1v1h-1zM540 337h1v2h-1zM541 336h1v1h-1zM542 335h1v1h-1zM543 334h1v1h-1zM544 333h1v1h-1zM545 332h1v1h-1zM546 331h1v1h-1zM547 330h1v1h-1zM548 329h1v1h-1zM549 328h1v1h-1zM550 327h1v1h-1zM551 326h1v1h-1zM552 325h1v1h-1zM553 324h1v1h-1zM554 323h2v1h-2zM556 322h1v1h-1zM557 321h1v1h-1zM558 320h1v1h-1zM559 319h1v1h-1zM560 318h1v1h-1zM561 317h1v1h-1zM562 316h2v1h-2zM564 315h1v1h-1zM565 314h1v1h-1zM566 313h1v1h-1zM567 312h1v1h-1zM568 311h2v1h-2zM570 310h1v1h-1zM571 309h1v1h-1zM572 308h2v1h-2zM574 307h4v1h-4zM578 306h16v1h-16zM594 305h8v1h-8zM602 304h8v1h-8zM610 305h16v1h-16zM626 304h24v1h-24zM650 303h8v1h-8zM658 302h8v1h-8zM666 301h6v1h-6zM672 302h4v1h-4zM676 303h4v1h-4zM680 304h2v1h-2zM682 305h3v1h-3zM685 306h2v1h-2zM687 307h2v1h-2zM689 308h1v1h-1zM690 309h2v1h-2zM692 310h2v1h-2zM694 311h1v1h-1zM695 312h2v1h-2zM697 313h2v1h-2zM699 314h2v1h-2zM701 315h3v1h-3zM704 316h2v1h-2zM706 317h3v1h-3zM709 318h3v1h-3zM712 319h2v1h-2zM714 320h3v1h-3zM717 321h3v1h-3zM720 322h2v1h-2zM722 323h3v1h-3zM725 324h3v1h-3zM728 325h2v1h-2zM730 326h3v1h-3zM733 327h2v1h-2zM735 328h1v1h-1zM736 329h1v1h-1zM737 330h1v1h-1zM738 331h2v1h-2zM740 332h1v1h-1zM741 333h1v1h-1zM742 334h1v1h-1zM743 335h2v1h-2zM745 336h2v1h-2zM747 337h2v1h-2zM749 338h3v1h-3zM752 339h2v1h-2zM754 340h3v1h-3zM757 341h3v1h-3zM760 342h2v1h-2zM762 343h3v1h-3zM765 344h2v1h-2zM767 345h2v1h-2zM769 346h2v1h-2zM771 347h2v1h-2zM773 348h3v1h-3zM776 349h2v1h-2zM778 350h3v1h-3zM781 351h29v1h-29zM810 350h24v1h-24zM834 349h24v1h-24zM858 348h32v1h-32zM890 349h16v1h-16zM906 350h6v1h-6zM912 349h4v1h-4zM916 348h4v1h-4zM920 347h2v1h-2zM922 346h3v1h-3zM925 345h2v1h-2zM927 344h2v1h-2zM929 343h1v1h-1zM930 342h2v1h-2zM932 341h2v1h-2zM934 340h1v1h-1zM935 339h1v1h-1zM936 338h1v1h-1zM937 337h1v1h-1zM938 336h2v1h-2zM940 335h1v1h-1zM941 334h1v1h-1zM942 332h1v2h-1zM943 330h1v2h-1zM944 328h1v2h-1zM945 326h1v2h-1zM946 324h1v2h-1zM947 322h1v2h-1zM948 320h1v2h-1zM949 318h1v2h-1zM950 316h1v2h-1zM951 314h1v2h-1zM952 312h1v2h-1zM953 311h1v1h-1zM954 309h1v2h-1zM955 308h1v1h-1zM956 306h1v2h-1zM957 304h1v2h-1zM958 303h1v1h-1zM959 301h1v2h-1zM960 299h1v2h-1zM961 298h1v1h-1zM962 296h1v2h-1zM963 295h1v1h-1zM964 293h1v2h-1zM965 291h1v2h-1zM966 290h1v1h-1zM967 288h1v2h-1zM968 287h1v1h-1zM969 285h1v2h-1zM970 284h1v1h-1zM971 282h1v2h-1zM972 281h1v1h-1zM973 279h1v2h-1zM974 278h1v1h-1zM975 276h1v2h-1zM976 274h1v2h-1zM977 272h1v2h-1zM978 270h1v2h-1zM979 268h1v2h-1zM980 266h1v2h-1zM981 264h1v2h-1zM982 263h1v1h-1zM983 261h1v2h-1zM984 259h1v2h-1zM985 257h1v2h-1zM986 255h1v2h-1zM987 253h1v2h-1zM988 251h1v2h-1zM989 249h1v2h-1zM990 248h1v1h-1zM991 246h1v2h-1zM992 245h1v1h-1zM993 244h1v1h-1zM994 242h1v2h-1zM995 241h1v1h-1zM996 240h1v1h-1zM997 238h1v2h-1zM998 237h1v1h-1zM999 236h1v1h-1zM1000 235h1v1h-1zM1001 234h1v1h-1zM1002 233h1v1h-1zM1003 231h1v2h-1zM1004 230h1v1h-1zM1005 228h1v2h-1zM1006 227h1v1h-1zM1007 225h1v2h-1zM1008 224h1v1h-1zM1009 223h1v1h-1zM1010 221h1v2h-1zM1011 220h1v1h-1zM1012 219h1v1h-1zM1013 217h1v2h-1zM1014 216h1v1h-1zM1015 215h1v1h-1zM1016 213h1v2h-1zM1017 212h1v1h-1zM1018 211h1v1h-1zM1019 210h1v1h-1zM1020 208h1v2h-1zM1021 207h1v1h-1zM1022 206h1v1h-1zM1023 204h1v2h-1zM1024 203h1v1h-1zM1025 202h1v1h-1zM1026 200h1v2h-1zM1027 199h1v1h-1zM1028 198h1v1h-1zM1029 196h1v2h-1zM1030 195h1v1h-1zM1031 193h1v2h-1zM1032 192h1v1h-1zM1033 190h1v2h-1zM1034 189h1v1h-1zM1035 187h1v2h-1zM1036 186h1v1h-1zM1037 184h1v2h-1zM1038 183h1v1h-1zM1039 182h1v1h-1zM1040 181h1v1h-1zM1041 180h1v1h-1zM1042 179h1v1h-1zM1043 178h1v1h-1zM1044 177h1v1h-1zM1045 176h1v1h-1zM1046 175h1v1h-1zM1047 174h1v1h-1zM1048 173h1v1h-1zM1049 172h1v1h-1zM1050 171h5v1h-5zM1055 170h2v1h-2zM1057 169h1v1h-1zM1058 168h2v1h-2zM1060 167h2v1h-2zM1062 166h1v1h-1zM1063 165h1v1h-1zM1064 164h1v1h-1zM1065 163h1v1h-1zM1066 162h1v1h-1zM1067 161h1v1h-1zM1068 160h1v1h-1zM1069 159h1v1h-1zM1070 158h1v1h-1zM1071 157h2v1h-2zM1073 156h1v1h-1zM1074 155h2v1h-2zM1076 154h2v1h-2zM1078 153h1v1h-1zM1079 152h2v1h-2zM1081 151h1v1h-1zM1082 150h2v1h-2zM1084 149h2v1h-2zM1086 148h2v1h-2zM1088 147h2v1h-2zM1090 146h3v1h-3zM1093 145h2v1h-2zM1095 144h2v1h-2zM1097 143h1v1h-1zM1098 142h2v1h-2zM1100 141h2v1h-2zM1102 140h1v1h-1zM1103 138h1v2h-1zM1104 137h1v1h-1zM1105 135h1v2h-1zM1106 134h1v1h-1zM1107 132h1v2h-1zM1108 131h1v1h-1zM1109 129h1v2h-1zM1110 128h1v1h-1zM1111 127h1v1h-1zM1112 126h1v1h-1zM1113 125h1v1h-1zM1114 123h1v2h-1zM1115 122h1v1h-1zM1116 121h1v1h-1zM1117 120h1v1h-1zM1118 119h1v1h-1zM1119 118h1v1h-1zM1120 117h1v1h-1zM1121 116h1v1h-1zM1122 115h2v1h-2zM1124 114h1v1h-1zM1125 113h1v1h-1zM1126 112h1v1h-1zM1127 111h2v1h-2zM1129 110h1v1h-1zM1130 109h2v1h-2zM1132 108h2v1h-2zM1134 107h2v1h-2zM1136 106h4v1h-4zM1140 105h4v1h-4zM1144 104h2v1h-2zM1146 103h3v1h-3zM1149 102h3v1h-3zM1152 101h2v1h-2zM1154 100h3v1h-3zM1157 99h10v1h-10zM1167 100h2v1h-2zM1169 101h2v1h-2zM1171 102h2v1h-2zM1173 103h2v1h-2zM1175 104h1v1h-1zM1176 105h1v1h-1zM1177 106h1v1h-1zM1178 107h1v1h-1zM1179 108h1v1h-1zM1180 109h1v1h-1zM1181 110h1v1h-1zM1182 111h1v1h-1zM1183 112h1v1h-1zM1184 113h1v1h-1zM1185 114h1v1h-1zM1186 115h1v1h-1zM1187 116h1v1h-1zM1188 117h1v1h-1zM1189 118h1v1h-1zM1190 119h1v1h-1zM1191 120h1v1h-1zM1192 121h2v1h-2zM1194 122h1v1h-1zM1195 123h1v1h-1zM1196 124h2v1h-2zM1198 125h1v1h-1zM1199 126h2v1h-2zM1201 127h2v1h-2zM1203 128h2v1h-2zM1205 129h2v1h-2zM1207 130h2v1h-2zM1209 131h2v1h-2zM1211 132h2v1h-2zM1213 133h2v1h-2zM1215 134h2v1h-2zM1217 135h1v1h-1zM1218 136h2v1h-2zM1220 137h2v1h-2zM1222 138h1v1h-1zM1223 139h2v1h-2zM1225 140h1v1h-1zM1226 141h1v1h-1zM1227 142h2v1h-2zM1229 143h1v1h-1z"/>
<path fill="#0000cd" shape-rendering="crispEdges" d="M6 450h1v1h-1zM7 451h1v1h-1zM8 452h1v2h-1zM9 454h1v1h-1zM10 455h1v1h-1zM11 456h1v1h-1zM12 457h1v2h-1zM13 459h1v1h-1zM14 460h1v1h-1zM15 461h1v1h-1zM16 462h1v2h-1zM17 464h1v1h-1zM18 465h1v1h-1zM19 466h1v1h-1zM20 467h1v2h-1zM21 469h1v1h-1zM22 470h1v1h-1zM23 471h1v1h-1zM24 472h1v1h-1zM25 473h1v1h-1zM26 474h1v2h-1zM27 476h1v1h-1zM28 477h1v1h-1zM29 478h1v1h-1zM30 479h1v1h-1zM31 480h1v2h-1zM32 482h1v1h-1zM33 483h1v2h-1zM34 485h1v1h-1zM35 486h1v2h-1zM36 488h1v1h-1zM37 489h1v2h-1zM38 491h1v1h-1zM39 492h1v2h-1zM40 494h1v2h-1zM41 496h1v2h-1zM42 498h1v1h-1zM43 499h1v2h-1zM44 501h1v2h-1zM45 503h1v2h-1zM46 505h1v1h-1zM47 506h1v2h-1zM48 508h1v1h-1zM49 509h1v1h-1zM50 510h1v2h-1zM51 512h1v1h-1zM52 513h1v1h-1zM53 514h1v2h-1zM54 516h1v1h-1zM55 517h1v1h-1zM56 518h1v1h-1zM57 519h1v1h-1zM58 520h2v1h-2zM60 521h1v1h-1zM61 522h1v1h-1zM62 523h10v1h-10zM72 524h2v1h-2zM74 525h3v1h-3zM77 526h5v1h-5zM82 525h5v1h-5zM87 524h2v1h-2zM89 523h1v1h-1zM90 522h2v1h-2zM92 521h2v1h-2zM94 520h1v1h-1zM95 519h1v1h-1zM96 518h1v1h-1zM97 517h1v1h-1zM98 516h2v1h-2zM100 515h1v1h-1zM101 514h1v1h-1zM102 513h1v1h-1zM103 512h1v1h-1zM104 511h1v1h-1zM105 510h1v1h-1zM106 509h2v1h-2zM108 508h1v1h-1zM109 507h1v1h-1zM110 506h1v1h-1zM111 505h2v1h-2zM113 504h2v1h-2zM115 503h2v1h-2zM117 502h3v1h-3zM120 503h4v1h-4zM124 504h12v1h-12zM136 503h2v1h-2zM138 502h3v1h-3zM141 501h5v1h-5zM146 502h8v1h-8zM154 503h6v1h-6zM160 504h4v1h-4zM164 505h3v1h-3zM167 506h2v1h-2zM169 507h1v1h-1zM170 508h2v1h-2zM172 509h2v1h-2zM174 510h4v1h-4zM178 511h6v1h-6zM184 510h2v1h-2zM186 509h3v1h-3zM189 508h5v1h-5zM194 509h8v1h-8zM202 508h6v1h-6zM208 507h4v1h-4zM212 506h4v1h-4zM216 505h4v1h-4zM220 504h3v1h-3zM223 503h1v1h-1zM224 502h2v1h-2zM226 501h1v1h-1zM227 500h1v1h-1zM228 499h2v1h-2zM230 498h4v1h-4zM234 497h16v1h-16zM250 496h6v1h-6zM256 497h4v1h-4zM260 498h4v1h-4zM264 499h2v1h-2zM266 500h3v1h-3zM269 501h3v1h-3zM272 502h4v1h-4zM276 503h6v1h-6zM282 504h8v1h-8zM290 505h8v1h-8zM298 504h8v1h-8zM306 505h16v1h-16zM322 506h5v1h-5zM327 507h2v1h-2zM329 508h2v1h-2zM331 509h2v1h-2zM333 510h3v1h-3zM336 511h2v1h-2zM338 512h3v1h-3zM341 513h19v1h-19zM360 512h2v1h-2zM362 511h3v1h-3zM365 510h2v1h-2zM367 509h2v1h-2zM369 508h1v1h-1zM370 507h2v1h-2zM372 506h2v1h-2zM374 505h1v1h-1zM375 504h2v1h-2zM377 503h1v1h-1zM378 502h2v1h-2zM380 501h2v1h-2zM382 500h1v1h-1zM383 499h1v1h-1zM384 498h1v1h-1zM385 497h1v1h-1zM386 496h2v1h-2zM388 495h1v1h-1zM389 494h1v1h-1zM390 493h1v1h-1zM391 492h2v1h-2zM393 491h1v1h-1zM394 490h2v1h-2zM396 489h2v1h-2zM398 488h2v1h-2zM400 487h4v1h-4zM404 486h4v1h-4zM408 485h2v1h-2zM410 484h3v1h-3zM413 483h5v1h-5zM418 482h5v1h-5zM423 481h1v1h-1zM424 480h2v1h-2zM426 479h1v1h-1zM427 478h1v1h-1zM428 477h2v1h-2zM430 476h1v1h-1zM431 475h1v1h-1zM432 474h1v1h-1zM433 473h1v1h-1zM434 472h2v1h-2zM436 471h1v1h-1zM437 470h1v1h-1zM438 469h1v1h-1zM439 468h1v1h-1zM440 467h1v1h-1zM441 466h1v1h-1zM442 464h1v2h-1zM443 463h1v1h-1zM444 462h1v1h-1zM445 461h1v1h-1zM446 460h1v1h-1zM447 458h1v2h-1zM448 456h1v2h-1zM449 454h1v2h-1zM450 453h1v1h-1zM451 451h1v2h-1zM452 449h1v2h-1zM453 447h1v2h-1zM454 446h1v1h-1zM455 444h1v2h-1zM456 442h1v2h-1zM457 440h1v2h-1zM458 438h1v2h-1zM459 436h1v2h-1zM460 434h1v2h-1zM461 432h1v2h-1zM462 429h1v3h-1zM463 426h1v3h-1zM464 424h1v2h-1zM465 421h1v3h-1zM466 418h1v3h-1zM467 415h1v3h-1zM468 413h1v2h-1zM469 410h1v3h-1zM470 407h1v3h-1zM471 405h1v2h-1zM472 402h1v3h-1zM473 399h1v3h-1zM474 396h1v3h-1zM475 392h1v4h-1zM476 389h1v3h-1zM477 386h1v3h-1zM478 383h1v3h-1zM479 381h1v2h-1zM480 379h1v2h-1zM481 377h1v2h-1zM482 374h1v3h-1zM483 372h1v2h-1zM484 370h1v2h-1zM485 368h1v2h-1zM486 365h1v3h-1zM487 363h1v2h-1zM488 361h1v2h-1zM489 359h1v2h-1zM490 356h1v3h-1zM491 354h1v2h-1zM492 352h1v2h-1zM493 350h1v2h-1zM494 347h1v3h-1zM495 345h1v2h-1zM496 343h1v2h-1zM497 341h1v2h-1zM498 339h1v2h-1zM499 337h1v2h-1zM500 335h1v2h-1zM501 333h1v2h-1zM502 331h1v2h-1zM503 329h1v2h-1zM504 327h1v2h-1zM505 325h1v2h-1zM506 324h1v1h-1zM507 322h1v2h-1zM508 320h1v2h-1zM509 318h1v2h-1zM510 317h1v1h-1zM511 316h1v1h-1zM512 315h1v1h-1zM513 314h1v1h-1zM514 312h1v2h-1zM515 311h1v1h-1zM516 310h1v1h-1zM517 309h1v1h-1zM518 308h2v1h-2zM520 307h2v1h-2zM522 306h3v1h-3zM525 305h3v1h-3zM528 304h2v1h-2zM530 303h3v1h-3zM533 302h5v1h-5zM538 301h6v1h-6zM544 302h2v1h-2zM546 303h3v1h-3zM549 304h2v1h-2zM551 305h2v1h-2zM553 306h2v1h-2zM555 307h2v1h-2zM557 308h13v1h-13zM570 307h8v1h-8zM578 308h8v1h-8zM586 309h8v1h-8zM594 308h6v1h-6zM600 307h2v1h-2zM602 306h3v1h-3zM605 305h5v1h-5zM610 304h6v1h-6zM616 303h4v1h-4zM620 302h6v1h-6zM626 301h8v1h-8zM634 302h6v1h-6zM640 301h4v1h-4zM644 300h12v1h-12zM656 299h4v1h-4zM660 298h11v1h-11zM671 299h1v1h-1zM672 300h2v1h-2zM674 301h1v1h-1zM675 302h1v1h-1zM676 303h2v1h-2zM678 304h1v1h-1zM679 305h1v1h-1zM680 306h1v1h-1zM681 307h1v1h-1zM682 308h2v1h-2zM684 309h1v1h-1zM685 310h1v1h-1zM686 311h1v1h-1zM687 312h1v1h-1zM688 313h1v1h-1zM689 314h1v1h-1zM690 315h1v2h-1zM691 317h1v1h-1zM692 318h1v1h-1zM693 319h1v1h-1zM694 320h1v1h-1zM695 321h1v1h-1zM696 322h1v1h-1zM697 323h1v1h-1zM698 324h1v2h-1zM699 326h1v1h-1zM700 327h1v1h-1zM701 328h1v1h-1zM702 329h1v1h-1zM703 330h1v1h-1zM704 331h2v1h-2zM706 332h1v1h-1zM707 333h1v1h-1zM708 334h2v1h-2zM710 335h1v1h-1zM711 336h1v1h-1zM712 337h1v1h-1zM713 338h1v1h-1zM714 339h2v1h-2zM716 340h1v1h-1zM717 341h1v1h-1zM718 342h1v1h-1zM719 343h1v1h-1zM720 344h1v1h-1zM721 345h1v1h-1zM722 346h2v1h-2zM724 347h1v1h-1zM725 348h1v1h-1zM726 349h2v1h-2zM728 350h2v1h-2zM730 351h3v1h-3zM733 352h3v1h-3zM736 353h2v1h-2zM738 354h3v1h-3zM741 355h5v1h-5zM746 356h6v1h-6zM752 355h2v1h-2zM754 354h3v1h-3zM757 353h13v1h-13zM770 354h6v1h-6zM776 353h4v1h-4zM780 352h4v1h-4zM784 351h4v1h-4zM788 350h4v1h-4zM792 349h2v1h-2zM794 348h3v1h-3zM797 347h3v1h-3zM800 346h4v1h-4zM804 345h6v1h-6zM810 346h22v1h-22zM832 347h4v1h-4zM836 348h6v1h-6zM842 349h8v1h-8zM850 350h8v1h-8zM858 349h16v1h-16zM874 348h8v1h-8zM882 349h8v1h-8zM890 350h8v1h-8zM898 349h8v1h-8zM906 348h6v1h-6zM912 347h4v1h-4zM916 346h4v1h-4zM920 345h2v1h-2zM922 344h3v1h-3zM925 343h2v1h-2zM927 341h1v2h-1zM928 339h1v2h-1zM929 338h1v1h-1zM930 336h1v2h-1zM931 335h1v1h-1zM932 333h1v2h-1zM933 331h1v2h-1zM934 330h1v1h-1zM935 328h1v2h-1zM936 326h1v2h-1zM937 324h1v2h-1zM938 323h1v1h-1zM939 321h1v2h-1zM940 319h1v2h-1zM941 317h1v2h-1zM942 315h1v2h-1zM943 311h1v4h-1zM944 307h1v4h-1zM945 303h1v4h-1zM946 298h1v5h-1zM947 293h1v5h-1zM948 289h1v4h-1zM949 284h1v5h-1zM950 280h1v4h-1zM951 277h1v3h-1zM952 273h1v4h-1zM953 270h1v3h-1zM954 267h1v3h-1zM955 264h1v3h-1zM956 261h1v3h-1zM957 258h1v3h-1zM958 255h1v3h-1zM959 252h1v3h-1zM960 250h1v2h-1zM961 247h1v3h-1zM962 244h1v3h-1zM963 241h1v3h-1zM964 238h1v3h-1zM965 235h1v3h-1zM966 232h1v3h-1zM967 228h1v4h-1zM968 224h1v4h-1zM969 220h1v4h-1zM970 217h1v3h-1zM971 213h1v4h-1zM972 209h1v4h-1zM973 205h1v4h-1zM974 202h1v3h-1zM975 199h1v3h-1zM976 196h1v3h-1zM977 193h1v3h-1zM978 190h1v3h-1zM979 187h1v3h-1zM980 185h1v2h-1zM981 182h1v3h-1zM982 180h1v2h-1zM983 178h1v2h-1zM984 176h1v2h-1zM985 174h1v2h-1zM986 172h1v2h-1zM987 170h1v2h-1zM988 168h1v2h-1zM989 166h1v2h-1zM990 165h1v1h-1zM991 164h1v1h-1zM992 163h1v1h-1zM993 162h1v1h-1zM994 161h1v1h-1zM995 160h2v1h-2zM997 159h2v1h-2zM999 160h1v2h-1zM1000 162h1v1h-1zM1001 163h1v2h-1zM1002 165h1v1h-1zM1003 166h1v2h-1zM1004 168h1v1h-1zM1005 169h1v2h-1zM1006 171h9v1h-9zM1015 172h1v1h-1zM1016 173h2v1h-2zM1018 174h1v1h-1zM1019 175h1v1h-1zM1020 176h2v1h-2zM1022 177h4v1h-4zM1026 178h6v1h-6zM1032 179h2v1h-2zM1034 180h3v1h-3zM1037 181h2v1h-2zM1039 182h2v1h-2zM1041 183h1v1h-1zM1042 184h2v1h-2zM1044 185h2v1h-2zM1046 186h1v1h-1zM1047 185h1v1h-1zM1048 184h1v1h-1zM1049 183h1v1h-1zM1050 181h1v2h-1zM1051 180h1v1h-1zM1052 179h1v1h-1zM1053 178h1v1h-1zM1054 177h1v1h-1zM1055 175h1v2h-1zM1056 173h1v2h-1zM1057 171h1v2h-1zM1058 170h1v1h-1zM1059 168h1v2h-1zM1060 166h1v2h-1zM1061 164h1v2h-1zM1062 162h1v2h-1zM1063 160h1v2h-1zM1064 158h1v2h-1zM1065 156h1v2h-1zM1066 153h1v3h-1zM1067 151h1v2h-1zM1068 149h1v2h-1zM1069 147h1v2h-1zM1070 144h1v3h-1zM1071 142h1v2h-1zM1072 140h1v2h-1zM1073 138h1v2h-1zM1074 136h1v2h-1zM1075 134h1v2h-1zM1076 133h1v1h-1zM1077 131h1v2h-1zM1078 130h1v1h-1zM1079 128h1v2h-1zM1080 127h1v1h-1zM1081 125h1v2h-1zM1082 124h1v1h-1zM1083 122h1v2h-1zM1084 121h1v1h-1zM1085 119h1v2h-1zM1086 118h1v1h-1zM1087 116h1v2h-1zM1088 115h1v1h-1zM1089 114h1v1h-1zM1090 112h1v2h-1zM1091 111h1v1h-1zM1092 110h1v1h-1zM1093 108h1v2h-1zM1094 107h1v1h-1zM1095 105h1v2h-1zM1096 104h1v1h-1zM1097 102h1v2h-1zM1098 101h1v1h-1zM1099 99h1v2h-1zM1100 98h1v1h-1zM1101 96h1v2h-1zM1102 95h1v1h-1zM1103 93h1v2h-1zM1104 91h1v2h-1zM1105 89h1v2h-1zM1106 88h1v1h-1zM1107 86h1v2h-1zM1108 84h1v2h-1zM1109 82h1v2h-1zM1110 81h1v1h-1zM1111 80h2v1h-2zM1113 79h1v1h-1zM1114 78h2v1h-2zM1116 77h2v1h-2zM1118 76h2v1h-2zM1120 77h2v1h-2zM1122 78h3v1h-3zM1125 79h2v1h-2zM1127 80h2v1h-2zM1129 81h2v1h-2zM1131 82h2v1h-2zM1133 83h2v1h-2zM1135 84h1v1h-1zM1136 85h1v1h-1zM1137 86h1v1h-1zM1138 87h1v1h-1zM1139 88h1v1h-1zM1140 89h1v1h-1zM1141 90h1v1h-1zM1142 91h1v1h-1zM1143 92h2v1h-2zM1145 93h2v1h-2zM1147 94h2v1h-2zM1149 95h2v1h-2zM1151 96h1v1h-1zM1152 97h2v1h-2zM1154 98h1v1h-1zM1155 99h1v1h-1zM1156 100h2v1h-2zM1158 101h1v1h-1zM1159 102h1v2h-1zM1160 104h1v2h-1zM1161 106h1v2h-1zM1162 108h1v2h-1zM1163 110h1v2h-1zM1164 112h1v2h-1zM1165 114h1v2h-1zM1166 116h1v1h-1zM1167 117h1v2h-1zM1168 119h1v2h-1zM1169 121h1v2h-1zM1170 123h1v2h-1zM1171 125h1v2h-1zM1172 127h1v2h-1zM1173 129h1v2h-1zM1174 131h1v1h-1zM1175 132h1v2h-1zM1176 134h1v2h-1zM1177 136h1v2h-1zM1178 138h1v2h-1zM1179 140h1v2h-1zM1180 142h1v2h-1zM1181 144h1v2h-1zM1182 146h1v1h-1zM1183 147h1v1h-1zM1184 148h1v2h-1zM1185 150h1v1h-1zM1186 151h1v1h-1zM1187 152h1v1h-1zM1188 153h1v2h-1zM1189 155h1v1h-1zM1190 156h2v1h-2zM1192 157h2v1h-2zM1194 158h3v1h-3zM1197 159h2v1h-2zM1199 160h2v1h-2zM1201 161h2v1h-2zM1203 162h2v1h-2zM1205 163h5v1h-5zM1210 164h5v1h-5zM1215 163h2v1h-2zM1217 162h2v1h-2zM1219 161h2v1h-2zM1221 160h3v1h-3zM1224 159h2v1h-2zM1226 158h2v1h-2zM1228 157h2v1h-2z"/>
<g shape-rendering="crispEdges">
<rect x="6" y="463" width="1417" height="3" fill="#0000ff"/>
<rect x="6" y="404" width="1417" height="3" fill="#0000ff"/>
<rect x="6" y="328" width="1417" height="3" fill="#0000ff"/>
<rect x="5" y="326" width="7" height="7" fill="#0000ff"/>
<rect x="8" y="329" width="1" height="1" fill="#fff"/>
<rect x="1415" y="326" width="7" height="7" fill="#0000ff"/>
<rect x="1418" y="329" width="1" height="1" fill="#fff"/>
<rect x="6" y="233" width="1417" height="3" fill="#00ff00"/>
<rect x="5" y="231" width="7" height="7" fill="#00ff00"/>
<rect x="8" y="234" width="1" height="1" fill="#fff"/>
<rect x="1415" y="231" width="7" height="7" fill="#00ff00"/>
<rect x="1418" y="234" width="1" height="1" fill="#fff"/>
<rect x="6" y="138" width="1417" height="3" fill="#ff0000"/>
<rect x="5" y="136" width="7" height="7" fill="#ff0000"/>
<rect x="8" y="139" width="1" height="1" fill="#fff"/>
<rect x="1415" y="136" width="7" height="7" fill="#ff0000"/>
<rect x="1418" y="139" width="1" height="1" fill="#fff"/>
<polygon points="1131,24 1141,24 1136,29" fill="#c0c0c0"/>
</g>
<rect x="1422" y="31" width="2" height="1" fill="#000"/>
<text x="1427" y="35" font-size="9.8" fill="#000" textLength="33" lengthAdjust="spacingAndGlyphs" stroke="#000" stroke-width="0.12">7.21390</text>
<rect x="1422" y="64" width="2" height="1" fill="#000"/>
<text x="1427" y="68" font-size="9.8" fill="#000" textLength="33" lengthAdjust="spacingAndGlyphs" stroke="#000" stroke-width="0.12">7.17990</text>
<rect x="1422" y="97" width="2" height="1" fill="#000"/>
<text x="1427" y="101" font-size="9.8" fill="#000" textLength="33" lengthAdjust="spacingAndGlyphs" stroke="#000" stroke-width="0.12">7.14490</text>
<rect x="1422" y="130" width="2" height="1" fill="#000"/>
<text x="1427" y="134" font-size="9.8" fill="#000" textLength="33" lengthAdjust="spacingAndGlyphs" stroke="#000" stroke-width="0.12">7.10990</text>
<rect x="1422" y="163" width="2" height="1" fill="#000"/>
<text x="1427" y="167" font-size="9.8" fill="#000" textLength="33" lengthAdjust="spacingAndGlyphs" stroke="#000" stroke-width="0.12">7.07490</text>
<rect x="1422" y="196" width="2" height="1" fill="#000"/>
<text x="1427" y="200" font-size="9.8" fill="#000" textLength="33" lengthAdjust="spacingAndGlyphs" stroke="#000" stroke-width="0.12">7.04090</text>
<rect x="1422" y="229" width="2" height="1" fill="#000"/>
<text x="1427" y="233" font-size="9.8" fill="#000" textLength="33" lengthAdjust="spacingAndGlyphs" stroke="#000" stroke-width="0.12">7.00590</text>
<rect x="1422" y="262" width="2" height="1" fill="#000"/>
<text x="1427" y="266" font-size="9.8" fill="#000" textLength="33" lengthAdjust="spacingAndGlyphs" stroke="#000" stroke-width="0.12">6.97090</text>
<rect x="1422" y="295" width="2" height="1" fill="#000"/>
<text x="1427" y="299" font-size="9.8" fill="#000" textLength="33" lengthAdjust="spacingAndGlyphs" stroke="#000" stroke-width="0.12">6.93590</text>
<rect x="1422" y="328" width="2" height="1" fill="#000"/>
<text x="1427" y="332" font-size="9.8" fill="#000" textLength="33" lengthAdjust="spacingAndGlyphs" stroke="#000" stroke-width="0.12">6.90090</text>
<rect x="1422" y="361" width="2" height="1" fill="#000"/>
<text x="1427" y="365" font-size="9.8" fill="#000" textLength="33" lengthAdjust="spacingAndGlyphs" stroke="#000" stroke-width="0.12">6.86690</text>
<rect x="1422" y="394" width="2" height="1" fill="#000"/>
<text x="1427" y="398" font-size="9.8" fill="#000" textLength="33" lengthAdjust="spacingAndGlyphs" stroke="#000" stroke-width="0.12">6.83190</text>
<rect x="1422" y="427" width="2" height="1" fill="#000"/>
<text x="1427" y="431" font-size="9.8" fill="#000" textLength="33" lengthAdjust="spacingAndGlyphs" stroke="#000" stroke-width="0.12">6.79790</text>
<rect x="1422" y="460" width="2" height="1" fill="#000"/>
<text x="1427" y="464" font-size="9.8" fill="#000" textLength="33" lengthAdjust="spacingAndGlyphs" stroke="#000" stroke-width="0.12">6.76290</text>
<rect x="1422" y="493" width="2" height="1" fill="#000"/>
<text x="1427" y="497" font-size="9.8" fill="#000" textLength="33" lengthAdjust="spacingAndGlyphs" stroke="#000" stroke-width="0.12">6.72790</text>
<rect x="1422" y="526" width="2" height="1" fill="#000"/>
<text x="1427" y="530" font-size="9.8" fill="#000" textLength="33" lengthAdjust="spacingAndGlyphs" stroke="#000" stroke-width="0.12">6.69290</text>
<rect x="1422" y="559" width="2" height="1" fill="#000"/>
<text x="1427" y="563" font-size="9.8" fill="#000" textLength="33" lengthAdjust="spacingAndGlyphs" stroke="#000" stroke-width="0.12">6.65890</text>
<rect x="1423" y="137" width="40" height="11" fill="#000"/>
<text x="1427" y="145.8" font-size="9.8" fill="#fff" textLength="33" lengthAdjust="spacingAndGlyphs" stroke="#fff" stroke-width="0.12">7.09795</text>
<rect x="1423" y="133" width="40" height="11" fill="#ff0000"/>
<text x="1427" y="141.8" font-size="9.8" fill="#fff" textLength="33" lengthAdjust="spacingAndGlyphs" stroke="#fff" stroke-width="0.12">7.10029</text>
<rect x="1423" y="228" width="40" height="11" fill="#00ff00"/>
<text x="1427" y="236.8" font-size="9.8" fill="#fff" textLength="33" lengthAdjust="spacingAndGlyphs" stroke="#fff" stroke-width="0.12">7.00048</text>
<rect x="1423" y="323" width="40" height="11" fill="#0000ff"/>
<text x="1427" y="331.8" font-size="9.8" fill="#fff" textLength="33" lengthAdjust="spacingAndGlyphs" stroke="#fff" stroke-width="0.12">6.90100</text>
<rect x="1423" y="399" width="40" height="11" fill="#0000ff"/>
<text x="1427" y="407.8" font-size="9.8" fill="#fff" textLength="33" lengthAdjust="spacingAndGlyphs" stroke="#fff" stroke-width="0.12">6.82103</text>
<rect x="1423" y="458" width="40" height="11" fill="#0000ff"/>
<text x="1427" y="466.8" font-size="9.8" fill="#fff" textLength="33" lengthAdjust="spacingAndGlyphs" stroke="#fff" stroke-width="0.12">6.75804</text>
<g shape-rendering="crispEdges">
<rect x="12" y="30" width="1" height="1" fill="#000"/>
<rect x="11" y="31" width="3" height="1" fill="#000"/>
<rect x="10" y="32" width="5" height="1" fill="#000"/>
<rect x="9" y="33" width="7" height="1" fill="#000"/>
</g>
<text x="21.3" y="35" font-size="9.8" fill="#000" textLength="68" lengthAdjust="spacingAndGlyphs" stroke="#000" stroke-width="0.12">USDCNH-,Daily</text>
<text x="96.3" y="35" font-size="9.8" fill="#000" textLength="140" lengthAdjust="spacingAndGlyphs" stroke="#000" stroke-width="0.12">7.10000 7.10293 7.09658 7.09795</text>
<defs>
<linearGradient id="rg" x1="0" y1="0" x2="0" y2="1"><stop offset="0" stop-color="#fb5252"/><stop offset="0.36" stop-color="#e03030"/><stop offset="1" stop-color="#b00404"/></linearGradient>
<linearGradient id="bg" x1="0" y1="0" x2="0" y2="1"><stop offset="0" stop-color="#f6f6f6"/><stop offset="0.5" stop-color="#e2e2e2"/><stop offset="0.5" stop-color="#d4d4d4"/><stop offset="1" stop-color="#dcdcdc"/></linearGradient>
<linearGradient id="rgu" gradientUnits="userSpaceOnUse" x1="0" y1="43" x2="0" y2="107"><stop offset="0" stop-color="#fb5252"/><stop offset="0.36" stop-color="#e03030"/><stop offset="1" stop-color="#b00404"/></linearGradient>
</defs>
<path d="M9.5,43.5 H60.5 V67.5 H117.5 V106.5 H9.5 Z" fill="url(#rg)" stroke="#b01010" stroke-width="1" gradientUnits="userSpaceOnUse"/>
<path d="M227.5,43.5 H176.5 V67.5 H120.5 V106.5 H227.5 Z" fill="url(#rg)" stroke="#b01010" stroke-width="1"/>
<rect x="13" y="66" width="44" height="1" fill="#8c0000"/>
<rect x="13" y="67" width="44" height="1" fill="#f06060"/>
<rect x="180" y="66" width="44" height="1" fill="#8c0000"/>
<rect x="180" y="67" width="44" height="1" fill="#f06060"/>
<text x="21.3" y="59" font-size="13" fill="#fff" textLength="25.7" lengthAdjust="spacingAndGlyphs">SELL</text>
<text x="189.5" y="59" font-size="13" fill="#fff" textLength="22.8" lengthAdjust="spacingAndGlyphs">BUY</text>
<text x="29" y="98" font-size="12.5" fill="#fff" font-weight="bold" textLength="23.5" lengthAdjust="spacingAndGlyphs">7.09</text>
<text x="139" y="98" font-size="12.5" fill="#fff" font-weight="bold" textLength="23.5" lengthAdjust="spacingAndGlyphs">7.10</text>
<text x="56.8" y="98" font-size="34.5" fill="#fff" textLength="34" lengthAdjust="spacingAndGlyphs" stroke="url(#rgu)" stroke-width="0.5">79</text>
<text x="168" y="98" font-size="34.5" fill="#fff" textLength="32.8" lengthAdjust="spacingAndGlyphs" stroke="url(#rgu)" stroke-width="0.5">05</text>
<text x="96.5" y="82" font-size="12" fill="#fff" font-weight="bold" textLength="6" lengthAdjust="spacingAndGlyphs">5</text>
<text x="207" y="82" font-size="12" fill="#fff" font-weight="bold" textLength="6.5" lengthAdjust="spacingAndGlyphs">8</text>
<rect x="63.5" y="43.5" width="110" height="21" fill="#fff" stroke="#a0a4ac"/>
<rect x="65" y="45" width="19" height="18" fill="url(#bg)"/>
<rect x="153" y="45" width="19" height="18" fill="url(#bg)"/>
<rect x="84" y="44" width="1" height="20" fill="#a0a4ac"/>
<rect x="152" y="44" width="1" height="20" fill="#a0a4ac"/>
<polygon points="70.5,52 76.5,52 73.5,55.5" fill="#4058c8"/>
<polygon points="159.5,55.5 165.5,55.5 162.5,52" fill="#4058c8"/>
<text x="125.7" y="58" font-size="13" fill="#101018" textLength="22.7" lengthAdjust="spacingAndGlyphs">1.00</text>
<g shape-rendering="crispEdges">
<rect x="6" y="631" width="1" height="15" fill="#c0c0c0"/>
<rect x="14" y="631" width="1" height="17" fill="#c0c0c0"/>
<rect x="22" y="631" width="1" height="18" fill="#c0c0c0"/>
<rect x="30" y="631" width="1" height="22" fill="#c0c0c0"/>
<rect x="38" y="631" width="1" height="25" fill="#c0c0c0"/>
<rect x="46" y="631" width="1" height="28" fill="#c0c0c0"/>
<rect x="54" y="631" width="1" height="31" fill="#c0c0c0"/>
<rect x="62" y="631" width="1" height="31" fill="#c0c0c0"/>
<rect x="70" y="631" width="1" height="29" fill="#c0c0c0"/>
<rect x="78" y="631" width="1" height="27" fill="#c0c0c0"/>
<rect x="86" y="631" width="1" height="27" fill="#c0c0c0"/>
<rect x="94" y="631" width="1" height="23" fill="#c0c0c0"/>
<rect x="102" y="631" width="1" height="21" fill="#c0c0c0"/>
<rect x="110" y="631" width="1" height="18" fill="#c0c0c0"/>
<rect x="118" y="631" width="1" height="16" fill="#c0c0c0"/>
<rect x="126" y="631" width="1" height="16" fill="#c0c0c0"/>
<rect x="134" y="631" width="1" height="15" fill="#c0c0c0"/>
<rect x="142" y="631" width="1" height="14" fill="#c0c0c0"/>
<rect x="150" y="631" width="1" height="13" fill="#c0c0c0"/>
<rect x="158" y="631" width="1" height="13" fill="#c0c0c0"/>
<rect x="166" y="631" width="1" height="13" fill="#c0c0c0"/>
<rect x="174" y="631" width="1" height="13" fill="#c0c0c0"/>
<rect x="182" y="631" width="1" height="13" fill="#c0c0c0"/>
<rect x="190" y="631" width="1" height="11" fill="#c0c0c0"/>
<rect x="198" y="631" width="1" height="10" fill="#c0c0c0"/>
<rect x="206" y="631" width="1" height="8" fill="#c0c0c0"/>
<rect x="214" y="631" width="1" height="5" fill="#c0c0c0"/>
<rect x="222" y="631" width="1" height="3" fill="#c0c0c0"/>
<rect x="230" y="631" width="1" height="3" fill="#c0c0c0"/>
<rect x="238" y="631" width="1" height="3" fill="#c0c0c0"/>
<rect x="246" y="631" width="1" height="3" fill="#c0c0c0"/>
<rect x="254" y="631" width="1" height="3" fill="#c0c0c0"/>
<rect x="262" y="631" width="1" height="3" fill="#c0c0c0"/>
<rect x="270" y="631" width="1" height="3" fill="#c0c0c0"/>
<rect x="278" y="631" width="1" height="3" fill="#c0c0c0"/>
<rect x="286" y="631" width="1" height="3" fill="#c0c0c0"/>
<rect x="294" y="631" width="1" height="3" fill="#c0c0c0"/>
<rect x="302" y="631" width="1" height="2" fill="#c0c0c0"/>
<rect x="310" y="631" width="1" height="3" fill="#c0c0c0"/>
<rect x="318" y="631" width="1" height="3" fill="#c0c0c0"/>
<rect x="326" y="631" width="1" height="3" fill="#c0c0c0"/>
<rect x="334" y="631" width="1" height="5" fill="#c0c0c0"/>
<rect x="342" y="631" width="1" height="5" fill="#c0c0c0"/>
<rect x="350" y="631" width="1" height="5" fill="#c0c0c0"/>
<rect x="358" y="631" width="1" height="4" fill="#c0c0c0"/>
<rect x="366" y="631" width="1" height="1" fill="#c0c0c0"/>
<rect x="374" y="630" width="1" height="2" fill="#c0c0c0"/>
<rect x="382" y="629" width="1" height="3" fill="#c0c0c0"/>
<rect x="390" y="628" width="1" height="4" fill="#c0c0c0"/>
<rect x="398" y="627" width="1" height="5" fill="#c0c0c0"/>
<rect x="406" y="627" width="1" height="5" fill="#c0c0c0"/>
<rect x="414" y="626" width="1" height="6" fill="#c0c0c0"/>
<rect x="422" y="626" width="1" height="6" fill="#c0c0c0"/>
<rect x="430" y="622" width="1" height="10" fill="#c0c0c0"/>
<rect x="438" y="618" width="1" height="14" fill="#c0c0c0"/>
<rect x="446" y="614" width="1" height="18" fill="#c0c0c0"/>
<rect x="454" y="608" width="1" height="24" fill="#c0c0c0"/>
<rect x="462" y="603" width="1" height="29" fill="#c0c0c0"/>
<rect x="470" y="594" width="1" height="38" fill="#c0c0c0"/>
<rect x="478" y="588" width="1" height="44" fill="#c0c0c0"/>
<rect x="486" y="583" width="1" height="49" fill="#c0c0c0"/>
<rect x="494" y="578" width="1" height="54" fill="#c0c0c0"/>
<rect x="502" y="574" width="1" height="58" fill="#c0c0c0"/>
<rect x="510" y="572" width="1" height="60" fill="#c0c0c0"/>
<rect x="518" y="572" width="1" height="60" fill="#c0c0c0"/>
<rect x="526" y="571" width="1" height="61" fill="#c0c0c0"/>
<rect x="534" y="573" width="1" height="59" fill="#c0c0c0"/>
<rect x="542" y="576" width="1" height="56" fill="#c0c0c0"/>
<rect x="550" y="579" width="1" height="53" fill="#c0c0c0"/>
<rect x="558" y="581" width="1" height="51" fill="#c0c0c0"/>
<rect x="566" y="583" width="1" height="49" fill="#c0c0c0"/>
<rect x="574" y="584" width="1" height="48" fill="#c0c0c0"/>
<rect x="582" y="586" width="1" height="46" fill="#c0c0c0"/>
<rect x="590" y="589" width="1" height="43" fill="#c0c0c0"/>
<rect x="598" y="591" width="1" height="41" fill="#c0c0c0"/>
<rect x="606" y="593" width="1" height="39" fill="#c0c0c0"/>
<rect x="614" y="595" width="1" height="37" fill="#c0c0c0"/>
<rect x="622" y="596" width="1" height="36" fill="#c0c0c0"/>
<rect x="630" y="597" width="1" height="35" fill="#c0c0c0"/>
<rect x="638" y="600" width="1" height="32" fill="#c0c0c0"/>
<rect x="646" y="602" width="1" height="30" fill="#c0c0c0"/>
<rect x="654" y="604" width="1" height="28" fill="#c0c0c0"/>
<rect x="662" y="605" width="1" height="27" fill="#c0c0c0"/>
<rect x="670" y="607" width="1" height="25" fill="#c0c0c0"/>
<rect x="678" y="612" width="1" height="20" fill="#c0c0c0"/>
<rect x="686" y="616" width="1" height="16" fill="#c0c0c0"/>
<rect x="694" y="622" width="1" height="10" fill="#c0c0c0"/>
<rect x="702" y="627" width="1" height="5" fill="#c0c0c0"/>
<rect x="710" y="629" width="1" height="3" fill="#c0c0c0"/>
<rect x="718" y="630" width="1" height="2" fill="#c0c0c0"/>
<rect x="726" y="631" width="1" height="1" fill="#c0c0c0"/>
<rect x="734" y="631" width="1" height="2" fill="#c0c0c0"/>
<rect x="742" y="631" width="1" height="4" fill="#c0c0c0"/>
<rect x="750" y="631" width="1" height="6" fill="#c0c0c0"/>
<rect x="758" y="631" width="1" height="6" fill="#c0c0c0"/>
<rect x="766" y="631" width="1" height="5" fill="#c0c0c0"/>
<rect x="774" y="631" width="1" height="5" fill="#c0c0c0"/>
<rect x="782" y="631" width="1" height="4" fill="#c0c0c0"/>
<rect x="790" y="631" width="1" height="3" fill="#c0c0c0"/>
<rect x="798" y="631" width="1" height="3" fill="#c0c0c0"/>
<rect x="806" y="631" width="1" height="3" fill="#c0c0c0"/>
<rect x="814" y="631" width="1" height="4" fill="#c0c0c0"/>
<rect x="822" y="631" width="1" height="4" fill="#c0c0c0"/>
<rect x="830" y="631" width="1" height="4" fill="#c0c0c0"/>
<rect x="838" y="631" width="1" height="3" fill="#c0c0c0"/>
<rect x="846" y="631" width="1" height="3" fill="#c0c0c0"/>
<rect x="854" y="631" width="1" height="3" fill="#c0c0c0"/>
<rect x="862" y="631" width="1" height="3" fill="#c0c0c0"/>
<rect x="870" y="631" width="1" height="3" fill="#c0c0c0"/>
<rect x="878" y="631" width="1" height="3" fill="#c0c0c0"/>
<rect x="886" y="631" width="1" height="3" fill="#c0c0c0"/>
<rect x="894" y="631" width="1" height="3" fill="#c0c0c0"/>
<rect x="902" y="631" width="1" height="2" fill="#c0c0c0"/>
<rect x="910" y="631" width="1" height="1" fill="#c0c0c0"/>
<rect x="918" y="631" width="1" height="1" fill="#c0c0c0"/>
<rect x="926" y="630" width="1" height="2" fill="#c0c0c0"/>
<rect x="934" y="623" width="1" height="9" fill="#c0c0c0"/>
<rect x="942" y="617" width="1" height="15" fill="#c0c0c0"/>
<rect x="950" y="599" width="1" height="33" fill="#c0c0c0"/>
<rect x="958" y="592" width="1" height="40" fill="#c0c0c0"/>
<rect x="966" y="585" width="1" height="47" fill="#c0c0c0"/>
<rect x="974" y="579" width="1" height="53" fill="#c0c0c0"/>
<rect x="982" y="575" width="1" height="57" fill="#c0c0c0"/>
<rect x="990" y="571" width="1" height="61" fill="#c0c0c0"/>
<rect x="998" y="577" width="1" height="55" fill="#c0c0c0"/>
<rect x="1006" y="579" width="1" height="53" fill="#c0c0c0"/>
<rect x="1014" y="582" width="1" height="50" fill="#c0c0c0"/>
<rect x="1022" y="584" width="1" height="48" fill="#c0c0c0"/>
<rect x="1030" y="584" width="1" height="48" fill="#c0c0c0"/>
<rect x="1038" y="584" width="1" height="48" fill="#c0c0c0"/>
<rect x="1046" y="586" width="1" height="46" fill="#c0c0c0"/>
<rect x="1054" y="586" width="1" height="46" fill="#c0c0c0"/>
<rect x="1062" y="581" width="1" height="51" fill="#c0c0c0"/>
<rect x="1070" y="577" width="1" height="55" fill="#c0c0c0"/>
<rect x="1078" y="574" width="1" height="58" fill="#c0c0c0"/>
<rect x="1086" y="572" width="1" height="60" fill="#c0c0c0"/>
<rect x="1094" y="573" width="1" height="59" fill="#c0c0c0"/>
<rect x="1102" y="573" width="1" height="59" fill="#c0c0c0"/>
<rect x="1110" y="571" width="1" height="61" fill="#c0c0c0"/>
<rect x="1118" y="572" width="1" height="60" fill="#c0c0c0"/>
<rect x="1126" y="576" width="1" height="56" fill="#c0c0c0"/>
<rect x="1134" y="580" width="1" height="52" fill="#c0c0c0"/>
<rect x="1142" y="587" width="1" height="45" fill="#c0c0c0"/>
<rect x="1150" y="591" width="1" height="41" fill="#c0c0c0"/>
<rect x="1158" y="596" width="1" height="36" fill="#c0c0c0"/>
<rect x="1166" y="602" width="1" height="30" fill="#c0c0c0"/>
<rect x="1174" y="610" width="1" height="22" fill="#c0c0c0"/>
<rect x="1182" y="617" width="1" height="15" fill="#c0c0c0"/>
<rect x="1190" y="622" width="1" height="10" fill="#c0c0c0"/>
<rect x="1198" y="624" width="1" height="8" fill="#c0c0c0"/>
<rect x="1206" y="625" width="1" height="7" fill="#c0c0c0"/>
<rect x="1214" y="625" width="1" height="7" fill="#c0c0c0"/>
<rect x="1222" y="624" width="1" height="8" fill="#c0c0c0"/>
<rect x="1230" y="624" width="1" height="8" fill="#c0c0c0"/>
</g>
<path fill="#ff0000" shape-rendering="crispEdges" d="M6 646h3v1h-3zM12 646h3v1h-3zM18 646h1v1h-1zM19 645h2v1h-2zM24 645h3v1h-3zM30 645h3v1h-3zM36 646h3v1h-3zM42 648h2v1h-2zM44 649h1v1h-1zM48 650h3v1h-3zM54 651h3v1h-3zM60 652h1v1h-1zM61 653h2v1h-2zM66 654h3v1h-3zM72 655h1v1h-1zM73 656h2v1h-2zM78 657h3v1h-3zM84 658h3v1h-3zM90 658h3v1h-3zM96 658h3v1h-3zM102 658h2v1h-2zM104 657h1v1h-1zM108 657h3v1h-3zM114 656h3v1h-3zM120 655h3v1h-3zM126 655h1v1h-1zM127 654h2v1h-2zM132 654h1v1h-1zM133 653h2v1h-2zM138 652h3v1h-3zM144 651h1v1h-1zM145 650h2v1h-2zM150 649h3v1h-3zM156 648h2v1h-2zM158 647h1v1h-1zM162 647h1v1h-1zM163 646h2v1h-2zM168 646h3v1h-3zM174 645h3v1h-3zM180 645h3v1h-3zM186 645h3v1h-3zM192 644h3v1h-3zM198 644h3v1h-3zM204 644h1v1h-1zM205 643h2v1h-2zM210 643h3v1h-3zM216 642h3v1h-3zM222 641h2v1h-2zM224 640h1v1h-1zM228 639h3v1h-3zM234 639h2v1h-2zM236 638h1v1h-1zM240 638h3v1h-3zM246 638h3v1h-3zM252 637h3v1h-3zM258 636h3v1h-3zM264 635h3v1h-3zM270 635h3v1h-3zM276 635h1v1h-1zM277 634h2v1h-2zM282 634h3v1h-3zM288 634h3v1h-3zM294 634h3v1h-3zM300 634h3v1h-3zM306 634h3v1h-3zM312 634h3v1h-3zM318 634h3v1h-3zM324 634h3v1h-3zM330 635h2v1h-2zM332 636h1v1h-1zM336 636h3v1h-3zM342 635h3v1h-3zM348 635h3v1h-3zM354 635h3v1h-3zM360 635h3v1h-3zM366 635h3v1h-3zM372 635h2v1h-2zM374 634h1v1h-1zM378 634h3v1h-3zM384 634h1v1h-1zM385 633h2v1h-2zM390 633h3v1h-3zM396 632h3v1h-3zM402 632h2v1h-2zM404 631h1v1h-1zM408 631h3v1h-3zM414 630h2v1h-2zM416 629h1v1h-1zM420 628h3v1h-3zM426 627h3v1h-3zM432 627h1v1h-1zM433 626h2v1h-2zM438 625h3v1h-3zM444 624h2v1h-2zM446 623h1v1h-1zM450 622h3v1h-3zM456 620h2v1h-2zM458 619h1v1h-1zM462 618h1v1h-1zM463 617h2v1h-2zM468 615h1v1h-1zM469 614h2v1h-2zM474 612h1v1h-1zM475 611h2v1h-2zM480 609h1v1h-1zM481 608h1v1h-1zM482 607h1v1h-1zM486 605h1v1h-1zM487 604h2v1h-2zM492 601h2v1h-2zM494 600h1v1h-1zM498 598h1v1h-1zM499 597h1v1h-1zM500 596h1v1h-1zM504 593h2v1h-2zM506 592h1v1h-1zM510 590h1v1h-1zM511 589h1v1h-1zM512 588h1v1h-1zM516 586h1v1h-1zM517 585h2v1h-2zM522 583h1v1h-1zM523 582h2v1h-2zM528 580h1v1h-1zM529 579h2v1h-2zM534 577h1v1h-1zM535 576h2v1h-2zM540 575h3v1h-3zM546 574h3v1h-3zM552 574h3v1h-3zM558 574h3v1h-3zM564 575h3v1h-3zM570 576h3v1h-3zM576 576h3v1h-3zM582 577h3v1h-3zM588 578h2v1h-2zM590 579h1v1h-1zM594 580h1v1h-1zM595 581h2v1h-2zM600 582h1v1h-1zM601 583h2v1h-2zM606 584h2v1h-2zM608 585h1v1h-1zM612 586h3v1h-3zM618 587h3v1h-3zM624 588h3v1h-3zM630 589h3v1h-3zM636 591h3v1h-3zM642 592h1v1h-1zM643 593h2v1h-2zM648 594h3v1h-3zM654 595h2v1h-2zM656 596h1v1h-1zM660 597h3v1h-3zM666 598h3v1h-3zM672 599h2v1h-2zM674 600h1v1h-1zM678 600h1v1h-1zM679 601h2v1h-2zM684 602h1v1h-1zM685 603h2v1h-2zM690 605h3v1h-3zM696 607h3v1h-3zM702 609h2v1h-2zM704 610h1v1h-1zM708 612h1v1h-1zM709 613h2v1h-2zM714 615h1v1h-1zM715 616h2v1h-2zM720 617h1v1h-1zM721 618h2v1h-2zM726 619h1v1h-1zM727 620h2v1h-2zM732 621h2v1h-2zM734 622h1v1h-1zM738 623h1v1h-1zM739 624h2v1h-2zM744 626h3v1h-3zM750 627h1v1h-1zM751 628h2v1h-2zM756 629h1v1h-1zM757 630h2v1h-2zM762 631h2v1h-2zM764 632h1v1h-1zM768 633h3v1h-3zM774 634h3v1h-3zM780 635h3v1h-3zM786 635h3v1h-3zM792 635h3v1h-3zM798 635h3v1h-3zM804 635h3v1h-3zM810 635h3v1h-3zM816 635h3v1h-3zM822 635h3v1h-3zM828 635h3v1h-3zM834 635h3v1h-3zM840 635h3v1h-3zM846 635h3v1h-3zM852 635h3v1h-3zM858 635h3v1h-3zM864 635h3v1h-3zM870 635h3v1h-3zM876 635h3v1h-3zM882 634h3v1h-3zM888 634h3v1h-3zM894 634h3v1h-3zM900 634h3v1h-3zM906 634h3v1h-3zM912 634h3v1h-3zM918 634h3v1h-3zM924 634h1v1h-1zM925 633h2v1h-2zM930 632h3v1h-3zM936 631h3v1h-3zM942 630h1v1h-1zM943 629h2v1h-2zM948 627h1v1h-1zM949 626h2v1h-2zM954 624h1v1h-1zM955 623h2v1h-2zM960 620h2v1h-2zM962 619h1v1h-1zM966 615h1v1h-1zM967 614h2v1h-2zM972 610h1v1h-1zM973 609h1v1h-1zM974 608h1v1h-1zM978 605h1v1h-1zM979 604h2v1h-2zM984 600h2v1h-2zM986 599h1v1h-1zM990 596h1v1h-1zM991 595h1v1h-1zM992 594h1v1h-1zM996 592h1v1h-1zM997 591h1v1h-1zM998 590h1v1h-1zM1002 588h1v1h-1zM1003 587h2v1h-2zM1008 584h2v1h-2zM1010 583h1v1h-1zM1014 581h2v1h-2zM1016 580h1v1h-1zM1020 579h3v1h-3zM1026 578h3v1h-3zM1032 578h3v1h-3zM1038 579h3v1h-3zM1044 579h3v1h-3zM1050 580h3v1h-3zM1056 580h3v1h-3zM1062 581h3v1h-3zM1068 581h3v1h-3zM1074 581h3v1h-3zM1080 581h3v1h-3zM1086 580h3v1h-3zM1092 579h3v1h-3zM1098 579h1v1h-1zM1099 578h2v1h-2zM1104 577h3v1h-3zM1110 576h1v1h-1zM1111 575h2v1h-2zM1116 574h3v1h-3zM1122 574h3v1h-3zM1128 573h3v1h-3zM1134 573h3v1h-3zM1140 574h3v1h-3zM1146 575h3v1h-3zM1152 577h3v1h-3zM1158 579h2v1h-2zM1160 580h1v1h-1zM1164 582h2v1h-2zM1166 583h1v1h-1zM1170 585h2v1h-2zM1172 586h1v1h-1zM1176 588h2v1h-2zM1178 589h1v1h-1zM1182 591h1v1h-1zM1183 592h2v1h-2zM1188 595h1v1h-1zM1189 596h2v1h-2zM1194 599h1v1h-1zM1195 600h2v1h-2zM1200 603h2v1h-2zM1202 604h1v1h-1zM1206 606h1v1h-1zM1207 607h1v1h-1zM1208 608h1v1h-1zM1212 610h1v1h-1zM1213 611h2v1h-2zM1218 613h1v1h-1zM1219 614h2v1h-2zM1224 615h1v1h-1zM1225 616h2v1h-2z"/>
<text x="10" y="577" font-size="9.8" fill="#000" textLength="148" lengthAdjust="spacingAndGlyphs" stroke="#000" stroke-width="0.12">MACD(12,26,9) 0.007346 0.011847</text>
<rect x="1422" y="631" width="2" height="1" fill="#000"/>
<text x="1425" y="575" font-size="9.8" fill="#000" textLength="38" lengthAdjust="spacingAndGlyphs" stroke="#000" stroke-width="0.12">0.060317</text>
<text x="1425" y="635" font-size="9.8" fill="#000" textLength="18" lengthAdjust="spacingAndGlyphs" stroke="#000" stroke-width="0.12">0.00</text>
<text x="1425" y="664" font-size="9.8" fill="#000" textLength="42" lengthAdjust="spacingAndGlyphs" stroke="#000" stroke-width="0.12">-0.032648</text>
<rect x="1422" y="566" width="1" height="1" fill="#000"/>
<rect x="1422" y="666" width="1" height="1" fill="#000"/>
<rect x="1422" y="671" width="1" height="1" fill="#000"/>
<g shape-rendering="crispEdges">
<line x1="7" y1="709.5" x2="1421" y2="709.5" stroke="#c0c0c0" stroke-dasharray="3 3"/>
<line x1="7" y1="760.5" x2="1421" y2="760.5" stroke="#c0c0c0" stroke-dasharray="3 3"/>
<polygon points="6,794 6,799 11,799" fill="#c0c0c0"/>
</g>
<path fill="#1e90ff" shape-rendering="crispEdges" d="M6 747h1v1h-1zM7 748h1v1h-1zM8 749h2v1h-2zM10 750h1v1h-1zM11 751h1v1h-1zM12 752h2v1h-2zM14 753h1v1h-1zM15 752h2v1h-2zM17 751h2v1h-2zM19 750h2v1h-2zM21 749h2v1h-2zM23 750h2v1h-2zM25 751h1v1h-1zM26 752h2v1h-2zM28 753h2v1h-2zM30 754h2v1h-2zM32 755h2v1h-2zM34 756h3v1h-3zM37 757h11v1h-11zM48 758h4v1h-4zM52 759h3v1h-3zM55 758h1v1h-1zM56 757h1v1h-1zM57 756h1v1h-1zM58 755h2v1h-2zM60 754h1v1h-1zM61 753h1v1h-1zM62 752h1v1h-1zM63 751h1v1h-1zM64 750h1v1h-1zM65 749h1v1h-1zM66 747h1v2h-1zM67 746h1v1h-1zM68 745h1v1h-1zM69 744h1v1h-1zM70 743h2v1h-2zM72 744h2v1h-2zM74 745h3v1h-3zM77 746h5v1h-5zM82 747h5v1h-5zM87 746h2v1h-2zM89 745h2v1h-2zM91 744h2v1h-2zM93 743h2v1h-2zM95 742h1v1h-1zM96 741h1v1h-1zM97 740h1v1h-1zM98 739h2v1h-2zM100 738h1v1h-1zM101 737h1v1h-1zM102 736h4v1h-4zM106 737h13v1h-13zM119 738h1v1h-1zM120 739h1v1h-1zM121 740h1v1h-1zM122 741h2v1h-2zM124 742h1v1h-1zM125 743h1v1h-1zM126 744h2v1h-2zM128 745h4v1h-4zM132 746h3v1h-3zM135 745h1v1h-1zM136 744h1v1h-1zM137 743h1v1h-1zM138 742h1v1h-1zM139 741h1v1h-1zM140 740h1v1h-1zM141 739h1v1h-1zM142 738h2v1h-2zM144 739h2v1h-2zM146 740h3v1h-3zM149 741h3v1h-3zM152 740h2v1h-2zM154 739h3v1h-3zM157 738h5v1h-5zM162 739h5v1h-5zM167 740h1v2h-1zM168 742h1v1h-1zM169 743h1v1h-1zM170 744h1v2h-1zM171 746h1v1h-1zM172 747h1v1h-1zM173 748h1v2h-1zM174 750h1v1h-1zM175 749h1v1h-1zM176 747h1v2h-1zM177 746h1v1h-1zM178 745h1v1h-1zM179 744h1v1h-1zM180 742h1v2h-1zM181 741h1v1h-1zM182 740h1v1h-1zM183 739h1v1h-1zM184 738h2v1h-2zM186 737h1v1h-1zM187 736h1v1h-1zM188 735h2v1h-2zM190 734h1v1h-1zM191 735h2v1h-2zM193 736h2v1h-2zM195 737h2v1h-2zM197 738h3v1h-3zM200 737h2v1h-2zM202 736h3v1h-3zM205 735h2v1h-2zM207 734h2v1h-2zM209 733h1v1h-1zM210 732h2v1h-2zM212 731h2v1h-2zM214 730h9v1h-9zM223 731h1v1h-1zM224 732h2v1h-2zM226 733h1v1h-1zM227 734h1v1h-1zM228 735h2v1h-2zM230 736h10v1h-10zM240 735h4v1h-4zM244 734h3v1h-3zM247 735h2v1h-2zM249 736h1v1h-1zM250 737h2v1h-2zM252 738h2v1h-2zM254 739h4v1h-4zM258 738h6v1h-6zM264 739h2v1h-2zM266 740h3v1h-3zM269 741h2v1h-2zM271 740h2v1h-2zM273 739h1v1h-1zM274 738h2v1h-2zM276 737h2v1h-2zM278 736h17v1h-17zM295 735h2v1h-2zM297 734h2v1h-2zM299 733h2v1h-2zM301 732h2v1h-2zM303 733h1v1h-1zM304 734h1v1h-1zM305 735h1v1h-1zM306 736h1v2h-1zM307 738h1v1h-1zM308 739h1v1h-1zM309 740h1v1h-1zM310 741h4v1h-4zM314 742h5v1h-5zM319 741h2v1h-2zM321 740h1v1h-1zM322 739h2v1h-2zM324 738h2v1h-2zM326 737h1v1h-1zM327 738h1v2h-1zM328 740h1v2h-1zM329 742h1v2h-1zM330 744h1v1h-1zM331 745h1v2h-1zM332 747h1v2h-1zM333 749h1v2h-1zM334 751h1v1h-1zM335 749h1v2h-1zM336 748h1v1h-1zM337 746h1v2h-1zM338 745h1v1h-1zM339 743h1v2h-1zM340 742h1v1h-1zM341 740h1v2h-1zM342 739h1v1h-1zM343 738h2v1h-2zM345 737h2v1h-2zM347 736h2v1h-2zM349 735h2v1h-2zM351 734h2v1h-2zM353 733h1v1h-1zM354 732h2v1h-2zM356 731h2v1h-2zM358 730h2v1h-2zM360 729h2v1h-2zM362 728h3v1h-3zM365 727h2v1h-2zM367 726h2v1h-2zM369 725h2v1h-2zM371 724h2v1h-2zM373 723h2v1h-2zM375 724h2v1h-2zM377 725h2v1h-2zM379 726h2v1h-2zM381 727h18v1h-18zM399 728h2v1h-2zM401 729h2v1h-2zM403 730h2v1h-2zM405 731h2v1h-2zM407 730h1v1h-1zM408 729h1v1h-1zM409 728h1v1h-1zM410 727h2v1h-2zM412 726h1v1h-1zM413 725h1v1h-1zM414 724h1v1h-1zM415 725h2v1h-2zM417 726h1v1h-1zM418 727h2v1h-2zM420 728h2v1h-2zM422 729h1v1h-1zM423 727h1v2h-1zM424 725h1v2h-1zM425 723h1v2h-1zM426 721h1v2h-1zM427 719h1v2h-1zM428 717h1v2h-1zM429 715h1v2h-1zM430 713h2v1h-2zM430 714h1v1h-1zM432 712h4v1h-4zM436 711h4v1h-4zM440 710h4v1h-4zM444 709h3v1h-3zM447 708h1v1h-1zM448 707h1v1h-1zM449 706h1v1h-1zM450 705h2v1h-2zM452 704h1v1h-1zM453 703h1v1h-1zM454 702h4v1h-4zM458 701h5v1h-5zM463 700h1v1h-1zM464 699h1v1h-1zM465 698h1v1h-1zM466 696h1v2h-1zM467 695h1v1h-1zM468 694h1v1h-1zM469 693h1v1h-1zM470 692h1v1h-1zM471 693h2v1h-2zM473 694h1v1h-1zM474 695h2v1h-2zM476 696h2v1h-2zM478 697h10v1h-10zM488 696h2v1h-2zM490 695h3v1h-3zM493 694h5v1h-5zM498 693h5v1h-5zM503 694h2v1h-2zM505 695h1v1h-1zM506 696h2v1h-2zM508 697h2v1h-2zM510 698h2v1h-2zM512 699h2v1h-2zM514 700h3v1h-3zM517 701h3v1h-3zM520 700h4v1h-4zM524 699h3v1h-3zM527 700h2v1h-2zM529 701h1v1h-1zM530 702h2v1h-2zM532 703h2v1h-2zM534 704h1v1h-1zM535 705h1v1h-1zM536 706h2v1h-2zM538 707h1v1h-1zM539 708h1v1h-1zM540 709h2v1h-2zM542 710h2v1h-2zM544 711h4v1h-4zM548 712h4v1h-4zM552 711h4v1h-4zM556 710h4v1h-4zM560 709h4v1h-4zM564 708h4v1h-4zM568 707h4v1h-4zM572 706h4v1h-4zM576 707h4v1h-4zM580 708h3v1h-3zM583 709h1v1h-1zM584 710h1v1h-1zM585 711h1v1h-1zM586 712h1v1h-1zM587 713h1v1h-1zM588 714h1v1h-1zM589 715h1v1h-1zM590 716h4v1h-4zM594 715h6v1h-6zM600 714h4v1h-4zM604 713h11v1h-11zM615 712h2v1h-2zM617 711h2v1h-2zM619 710h2v1h-2zM621 709h10v1h-10zM631 710h1v2h-1zM632 712h1v1h-1zM633 713h1v1h-1zM634 714h1v2h-1zM635 716h1v1h-1zM636 717h1v1h-1zM637 718h1v2h-1zM638 720h4v1h-4zM642 719h8v1h-8zM650 718h8v1h-8zM658 717h6v1h-6zM664 718h4v1h-4zM668 719h3v1h-3zM670 720h1v1h-1zM671 721h1v2h-1zM672 723h1v2h-1zM673 725h1v3h-1zM674 728h1v2h-1zM675 730h1v3h-1zM676 733h1v2h-1zM677 735h1v2h-1zM678 737h1v1h-1zM678 738h4v1h-4zM682 739h5v1h-5zM687 740h1v2h-1zM688 742h1v1h-1zM689 743h1v2h-1zM690 745h1v1h-1zM691 746h1v2h-1zM692 748h1v1h-1zM693 749h1v2h-1zM694 751h2v1h-2zM696 750h2v1h-2zM698 749h3v1h-3zM701 748h2v1h-2zM703 747h2v1h-2zM705 746h1v1h-1zM706 745h2v1h-2zM708 744h2v1h-2zM710 743h1v1h-1zM711 742h2v1h-2zM713 741h2v1h-2zM715 740h2v1h-2zM717 739h10v1h-10zM727 740h2v1h-2zM729 741h1v1h-1zM730 742h2v1h-2zM732 743h2v1h-2zM734 744h4v1h-4zM738 745h5v1h-5zM743 746h2v1h-2zM745 747h1v1h-1zM746 748h2v1h-2zM748 749h2v1h-2zM750 750h1v1h-1zM751 748h1v2h-1zM752 746h1v2h-1zM753 745h1v1h-1zM754 743h1v2h-1zM755 742h1v1h-1zM756 740h1v2h-1zM757 738h1v2h-1zM758 737h9v1h-9zM767 738h2v1h-2zM769 739h2v1h-2zM771 740h2v1h-2zM773 741h2v1h-2zM775 740h1v1h-1zM776 738h1v2h-1zM777 737h1v1h-1zM778 736h1v1h-1zM779 735h1v1h-1zM780 733h1v2h-1zM781 732h1v1h-1zM782 731h2v1h-2zM784 732h2v1h-2zM786 733h3v1h-3zM789 734h3v1h-3zM792 733h4v1h-4zM796 732h3v1h-3zM799 733h1v1h-1zM800 734h1v1h-1zM801 735h1v1h-1zM802 736h1v2h-1zM803 738h1v1h-1zM804 739h1v1h-1zM805 740h1v1h-1zM806 741h2v1h-2zM808 740h4v1h-4zM812 739h4v1h-4zM816 738h4v1h-4zM820 737h4v1h-4zM824 738h2v1h-2zM826 739h3v1h-3zM829 740h2v1h-2zM831 739h2v1h-2zM833 738h2v1h-2zM835 737h2v1h-2zM837 736h3v1h-3zM840 737h4v1h-4zM844 738h4v1h-4zM848 739h4v1h-4zM852 740h3v1h-3zM855 739h2v1h-2zM857 738h1v1h-1zM858 737h2v1h-2zM860 736h2v1h-2zM862 735h12v1h-12zM874 734h5v1h-5zM879 735h1v1h-1zM880 736h2v1h-2zM882 737h1v1h-1zM883 738h1v1h-1zM884 739h2v1h-2zM886 740h4v1h-4zM890 741h5v1h-5zM895 740h1v1h-1zM896 739h2v1h-2zM898 738h1v1h-1zM899 737h1v1h-1zM900 736h2v1h-2zM902 735h1v1h-1zM903 734h1v1h-1zM904 733h1v1h-1zM905 732h1v1h-1zM906 731h2v1h-2zM908 730h1v1h-1zM909 729h1v1h-1zM910 728h2v1h-2zM912 729h4v1h-4zM916 730h3v1h-3zM919 729h1v1h-1zM920 728h1v1h-1zM921 727h1v1h-1zM922 725h1v2h-1zM923 724h1v1h-1zM924 723h1v1h-1zM925 722h1v1h-1zM926 720h1v2h-1zM927 718h1v2h-1zM928 716h1v2h-1zM929 713h1v3h-1zM930 711h1v2h-1zM931 708h1v3h-1zM932 706h1v2h-1zM933 704h1v2h-1zM934 702h4v1h-4zM934 703h1v1h-1zM938 701h5v1h-5zM943 699h1v2h-1zM944 697h1v2h-1zM945 695h1v2h-1zM946 693h1v2h-1zM947 691h1v2h-1zM948 689h1v2h-1zM949 687h1v2h-1zM950 685h1v2h-1zM951 687h1v3h-1zM952 690h1v3h-1zM953 693h1v3h-1zM954 696h1v4h-1zM955 700h1v3h-1zM956 703h1v3h-1zM957 706h1v3h-1zM958 709h3v1h-3zM958 710h1v1h-1zM961 708h2v1h-2zM963 707h2v1h-2zM965 706h5v1h-5zM970 707h8v1h-8zM978 706h8v1h-8zM986 705h5v1h-5zM990 706h1v1h-1zM991 707h1v2h-1zM992 709h1v3h-1zM993 712h1v3h-1zM994 715h1v2h-1zM995 717h1v3h-1zM996 720h1v3h-1zM997 723h1v2h-1zM998 725h3v1h-3zM998 726h1v1h-1zM1001 724h1v1h-1zM1002 723h2v1h-2zM1004 722h2v1h-2zM1006 721h4v1h-4zM1010 722h13v1h-13zM1023 721h2v1h-2zM1025 720h2v1h-2zM1027 719h2v1h-2zM1029 718h13v1h-13zM1042 719h6v1h-6zM1048 718h2v1h-2zM1050 717h3v1h-3zM1053 716h2v1h-2zM1055 715h1v1h-1zM1056 714h1v1h-1zM1057 713h1v1h-1zM1058 712h2v1h-2zM1060 711h1v1h-1zM1061 710h1v1h-1zM1062 709h1v1h-1zM1063 708h2v1h-2zM1065 707h2v1h-2zM1067 706h2v1h-2zM1069 705h5v1h-5zM1074 706h13v1h-13zM1087 707h1v1h-1zM1088 708h1v1h-1zM1089 709h1v1h-1zM1090 710h1v1h-1zM1091 711h1v1h-1zM1092 712h1v1h-1zM1093 713h1v1h-1zM1094 714h2v1h-2zM1096 713h2v1h-2zM1098 712h3v1h-3zM1101 711h2v1h-2zM1103 710h2v1h-2zM1105 709h2v1h-2zM1107 708h2v1h-2zM1109 707h2v1h-2zM1111 708h2v1h-2zM1113 709h1v1h-1zM1114 710h2v1h-2zM1116 711h2v1h-2zM1118 712h1v1h-1zM1119 713h1v1h-1zM1120 714h1v1h-1zM1121 715h1v1h-1zM1122 716h1v1h-1zM1123 717h1v1h-1zM1124 718h1v1h-1zM1125 719h1v1h-1zM1126 720h2v1h-2zM1128 721h4v1h-4zM1132 722h3v1h-3zM1135 723h1v1h-1zM1136 724h1v2h-1zM1137 726h1v1h-1zM1138 727h1v1h-1zM1139 728h1v1h-1zM1140 729h1v2h-1zM1141 731h1v1h-1zM1142 732h1v1h-1zM1143 731h2v1h-2zM1145 730h2v1h-2zM1147 729h2v1h-2zM1149 728h5v1h-5zM1154 729h5v1h-5zM1159 730h2v1h-2zM1161 731h1v1h-1zM1162 732h2v1h-2zM1164 733h2v1h-2zM1166 734h1v1h-1zM1167 735h1v1h-1zM1168 736h2v1h-2zM1170 737h1v1h-1zM1171 738h1v1h-1zM1172 739h2v1h-2zM1174 740h1v1h-1zM1175 741h2v1h-2zM1177 742h1v1h-1zM1178 743h2v1h-2zM1180 744h2v1h-2zM1182 745h1v1h-1zM1183 744h2v1h-2zM1185 743h1v1h-1zM1186 742h2v1h-2zM1188 741h2v1h-2zM1190 740h1v1h-1zM1191 739h2v1h-2zM1193 738h1v1h-1zM1194 737h2v1h-2zM1196 736h2v1h-2zM1198 735h4v1h-4zM1202 734h6v1h-6zM1208 733h2v1h-2zM1210 732h3v1h-3zM1213 731h2v1h-2zM1215 730h2v1h-2zM1217 729h2v1h-2zM1219 728h2v1h-2zM1221 727h2v1h-2zM1223 728h2v1h-2zM1225 729h2v1h-2zM1227 730h2v1h-2zM1229 731h2v1h-2z"/>
<text x="10" y="682" font-size="9.8" fill="#000" textLength="68" lengthAdjust="spacingAndGlyphs" stroke="#000" stroke-width="0.12">RSI(14) 52.1158</text>
<text x="1425" y="680" font-size="9.8" fill="#000" textLength="15" lengthAdjust="spacingAndGlyphs" stroke="#000" stroke-width="0.12">100</text>
<text x="1425" y="713" font-size="9.8" fill="#000" textLength="10" lengthAdjust="spacingAndGlyphs" stroke="#000" stroke-width="0.12">70</text>
<text x="1425" y="764" font-size="9.8" fill="#000" textLength="10" lengthAdjust="spacingAndGlyphs" stroke="#000" stroke-width="0.12">30</text>
<text x="1425" y="795.5" font-size="9.8" fill="#000" textLength="5" lengthAdjust="spacingAndGlyphs" stroke="#000" stroke-width="0.12">0</text>
<rect x="1422" y="709" width="2" height="1" fill="#000"/>
<rect x="1422" y="760" width="2" height="1" fill="#000"/>
<rect x="1422" y="798" width="1" height="1" fill="#000"/>
<rect x="6" y="800" width="1" height="3" fill="#000"/>
<text x="5.4" y="811.5" font-size="9.8" fill="#000" textLength="51.2" lengthAdjust="spacingAndGlyphs" stroke="#000" stroke-width="0.12">19 Feb 2019</text>
<rect x="70" y="800" width="1" height="3" fill="#000"/>
<text x="69.4" y="811.5" font-size="9.8" fill="#000" textLength="46.2" lengthAdjust="spacingAndGlyphs" stroke="#000" stroke-width="0.12">1 Mar 2019</text>
<rect x="134" y="800" width="1" height="3" fill="#000"/>
<text x="133.4" y="811.5" font-size="9.8" fill="#000" textLength="51.2" lengthAdjust="spacingAndGlyphs" stroke="#000" stroke-width="0.12">13 Mar 2019</text>
<rect x="198" y="800" width="1" height="3" fill="#000"/>
<text x="197.4" y="811.5" font-size="9.8" fill="#000" textLength="51.2" lengthAdjust="spacingAndGlyphs" stroke="#000" stroke-width="0.12">25 Mar 2019</text>
<rect x="262" y="800" width="1" height="3" fill="#000"/>
<text x="261.4" y="811.5" font-size="9.8" fill="#000" textLength="45.2" lengthAdjust="spacingAndGlyphs" stroke="#000" stroke-width="0.12">4 Apr 2019</text>
<rect x="326" y="800" width="1" height="3" fill="#000"/>
<text x="325.4" y="811.5" font-size="9.8" fill="#000" textLength="50.2" lengthAdjust="spacingAndGlyphs" stroke="#000" stroke-width="0.12">16 Apr 2019</text>
<rect x="390" y="800" width="1" height="3" fill="#000"/>
<text x="389.4" y="811.5" font-size="9.8" fill="#000" textLength="50.2" lengthAdjust="spacingAndGlyphs" stroke="#000" stroke-width="0.12">29 Apr 2019</text>
<rect x="454" y="800" width="1" height="3" fill="#000"/>
<text x="453.4" y="811.5" font-size="9.8" fill="#000" textLength="48.2" lengthAdjust="spacingAndGlyphs" stroke="#000" stroke-width="0.12">9 May 2019</text>
<rect x="518" y="800" width="1" height="3" fill="#000"/>
<text x="517.4" y="811.5" font-size="9.8" fill="#000" textLength="53.2" lengthAdjust="spacingAndGlyphs" stroke="#000" stroke-width="0.12">21 May 2019</text>
<rect x="582" y="800" width="1" height="3" fill="#000"/>
<text x="581.4" y="811.5" font-size="9.8" fill="#000" textLength="53.2" lengthAdjust="spacingAndGlyphs" stroke="#000" stroke-width="0.12">31 May 2019</text>
<rect x="646" y="800" width="1" height="3" fill="#000"/>
<text x="645.4" y="811.5" font-size="9.8" fill="#000" textLength="50.2" lengthAdjust="spacingAndGlyphs" stroke="#000" stroke-width="0.12">12 Jun 2019</text>
<rect x="710" y="800" width="1" height="3" fill="#000"/>
<text x="709.4" y="811.5" font-size="9.8" fill="#000" textLength="50.2" lengthAdjust="spacingAndGlyphs" stroke="#000" stroke-width="0.12">24 Jun 2019</text>
<rect x="774" y="800" width="1" height="3" fill="#000"/>
<text x="773.4" y="811.5" font-size="9.8" fill="#000" textLength="42.2" lengthAdjust="spacingAndGlyphs" stroke="#000" stroke-width="0.12">4 Jul 2019</text>
<rect x="838" y="800" width="1" height="3" fill="#000"/>
<text x="837.4" y="811.5" font-size="9.8" fill="#000" textLength="47.2" lengthAdjust="spacingAndGlyphs" stroke="#000" stroke-width="0.12">16 Jul 2019</text>
<rect x="902" y="800" width="1" height="3" fill="#000"/>
<text x="901.4" y="811.5" font-size="9.8" fill="#000" textLength="47.2" lengthAdjust="spacingAndGlyphs" stroke="#000" stroke-width="0.12">26 Jul 2019</text>
<rect x="966" y="800" width="1" height="3" fill="#000"/>
<text x="965.4" y="811.5" font-size="9.8" fill="#000" textLength="47.2" lengthAdjust="spacingAndGlyphs" stroke="#000" stroke-width="0.12">7 Aug 2019</text>
<rect x="1030" y="800" width="1" height="3" fill="#000"/>
<text x="1029.4" y="811.5" font-size="9.8" fill="#000" textLength="52.2" lengthAdjust="spacingAndGlyphs" stroke="#000" stroke-width="0.12">19 Aug 2019</text>
<rect x="1094" y="800" width="1" height="3" fill="#000"/>
<text x="1093.4" y="811.5" font-size="9.8" fill="#000" textLength="52.2" lengthAdjust="spacingAndGlyphs" stroke="#000" stroke-width="0.12">29 Aug 2019</text>
<rect x="1158" y="800" width="1" height="3" fill="#000"/>
<text x="1157.4" y="811.5" font-size="9.8" fill="#000" textLength="51.2" lengthAdjust="spacingAndGlyphs" stroke="#000" stroke-width="0.12">10 Sep 2019</text>
<rect x="1222" y="800" width="1" height="3" fill="#000"/>
<text x="1221.4" y="811.5" font-size="9.8" fill="#000" textLength="51.2" lengthAdjust="spacingAndGlyphs" stroke="#000" stroke-width="0.12">20 Sep 2019</text>
<rect x="3" y="820" width="1460" height="1" fill="#e4e4e4"/>
<rect x="1" y="822" width="1462" height="1" fill="#000"/>
<rect x="3" y="824" width="1460" height="16" fill="#f0f0f0"/>
<rect x="1" y="823" width="1" height="17" fill="#a0a0a0"/>
<rect x="2" y="823" width="1" height="17" fill="#696969"/>
<rect x="440" y="821" width="110" height="19" fill="#fff"/>
<rect x="439" y="822" width="1" height="18" fill="#000"/>
<rect x="550" y="822" width="1" height="18" fill="#000"/>
<text x="18" y="837.2" font-size="13" fill="#6a6a6a" textLength="84.5" lengthAdjust="spacingAndGlyphs">EURUSD-,Daily</text>
<text x="125" y="837.2" font-size="13" fill="#6a6a6a" textLength="87" lengthAdjust="spacingAndGlyphs">AUDUSD-,Daily</text>
<text x="235" y="837.2" font-size="13" fill="#6a6a6a" textLength="83.8" lengthAdjust="spacingAndGlyphs">USDCHF-,Daily</text>
<text x="342.5" y="837.2" font-size="13" fill="#6a6a6a" textLength="85" lengthAdjust="spacingAndGlyphs">USDCAD-,Daily</text>
<text x="562" y="837.2" font-size="13" fill="#6a6a6a" textLength="96.8" lengthAdjust="spacingAndGlyphs">EURCHF-,Weekly</text>
<text x="682" y="837.2" font-size="13" fill="#6a6a6a" textLength="85.5" lengthAdjust="spacingAndGlyphs">XAUUSD-,Daily</text>
<text x="790" y="837.2" font-size="13" fill="#6a6a6a" textLength="72" lengthAdjust="spacingAndGlyphs">GBPUSD-,H1</text>
<text x="886.3" y="837.2" font-size="13" fill="#6a6a6a" textLength="55.8" lengthAdjust="spacingAndGlyphs">UKOil-,H1</text>
<text x="965.5" y="837.2" font-size="13" fill="#6a6a6a" textLength="82" lengthAdjust="spacingAndGlyphs">USDX-,Weekly</text>
<text x="1070" y="837.2" font-size="13" fill="#6a6a6a" textLength="97" lengthAdjust="spacingAndGlyphs">EURCHF-,Weekly</text>
<text x="451.3" y="837.2" font-size="13" fill="#000" textLength="87.7" lengthAdjust="spacingAndGlyphs">USDCNH-,Daily</text>
<rect x="115" y="825" width="1" height="13" fill="#707070"/>
<rect x="223" y="825" width="1" height="13" fill="#707070"/>
<rect x="331" y="825" width="1" height="13" fill="#707070"/>
<rect x="671" y="825" width="1" height="13" fill="#707070"/>
<rect x="779" y="825" width="1" height="13" fill="#707070"/>
<rect x="875" y="825" width="1" height="13" fill="#707070"/>
<rect x="955" y="825" width="1" height="13" fill="#707070"/>
<rect x="1059" y="825" width="1" height="13" fill="#707070"/>
<rect x="1179" y="825" width="1" height="13" fill="#707070"/>
<polygon points="1440.5,827.5 1440.5,835 1436.8,831.2" fill="#a0a0a0"/>
<polygon points="1455.8,827.5 1455.8,835 1459.5,831.2" fill="#a0a0a0"/>
</svg>
</body></html>
